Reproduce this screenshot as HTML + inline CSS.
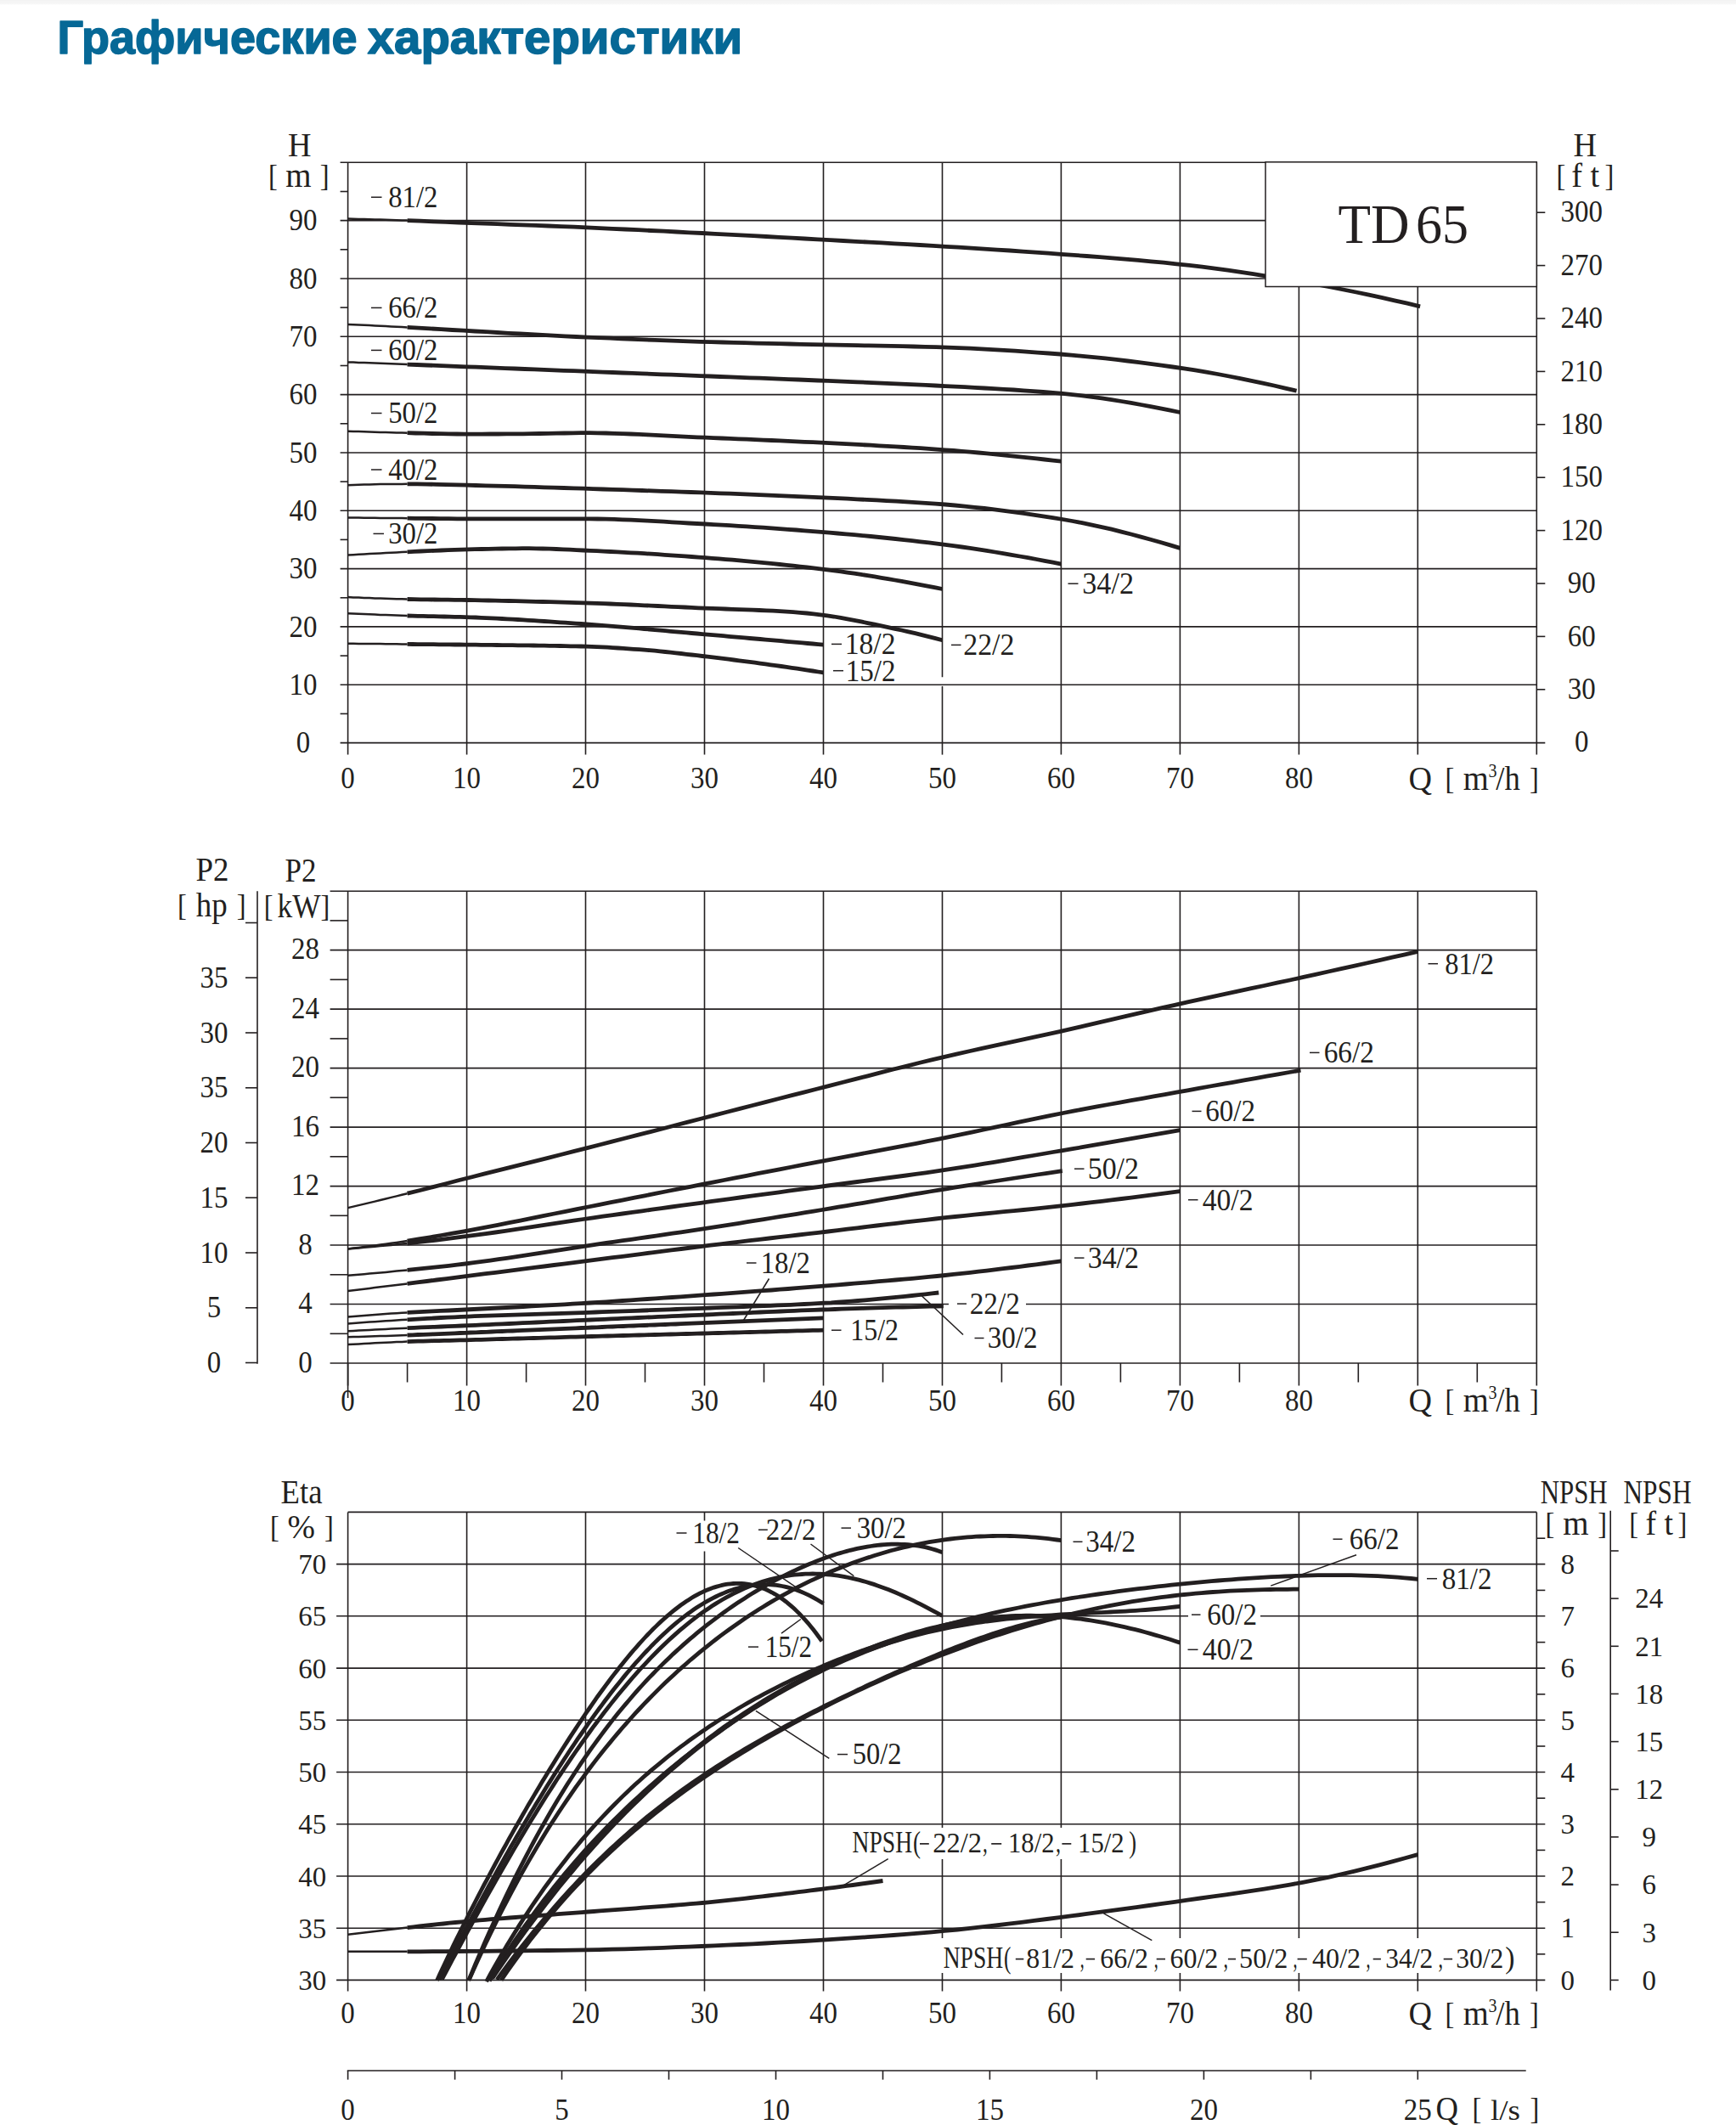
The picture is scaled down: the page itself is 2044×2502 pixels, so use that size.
<!DOCTYPE html>
<html lang="ru"><head><meta charset="utf-8"><title>TD65</title>
<style>
html,body{margin:0;padding:0;background:#fff;}
body{width:2044px;height:2502px;overflow:hidden;position:relative;font-family:"Liberation Sans",sans-serif;}
#strip{position:absolute;left:0;top:0;width:2044px;height:5.5px;background:linear-gradient(#f2f2f2 0,#f5f5f5 25%,#f5f5f5 66%,#ffffff 100%);}
#title{position:absolute;left:0;top:0;}
svg text{stroke:none;}
svg{position:absolute;left:0;top:0;display:block;}
</style></head><body>
<div id="strip"></div>
<svg width="2044" height="2502" viewBox="0 0 2044 2502" font-family="'Liberation Serif', serif" fill="#231f20" stroke="#231f20" stroke-linecap="butt">
<text x="67.4" y="63.2" font-family="'Liberation Sans', sans-serif" font-weight="bold" font-size="56" fill="#066896" style="stroke:#066896;stroke-width:1.5px;stroke-linejoin:round" lengthAdjust="spacingAndGlyphs" textLength="353.3">Графические</text>
<text x="432.7" y="63.2" font-family="'Liberation Sans', sans-serif" font-weight="bold" font-size="56" fill="#066896" style="stroke:#066896;stroke-width:1.5px;stroke-linejoin:round" lengthAdjust="spacingAndGlyphs" textLength="441.4">характеристики</text>
<line x1="400.6" y1="874.6" x2="1819.3" y2="874.6" stroke-width="1.6"/>
<line x1="400.6" y1="806.3" x2="1809.3" y2="806.3" stroke-width="1.6"/>
<line x1="400.6" y1="737.9" x2="1809.3" y2="737.9" stroke-width="1.6"/>
<line x1="400.6" y1="669.6" x2="1809.3" y2="669.6" stroke-width="1.6"/>
<line x1="400.6" y1="601.3" x2="1809.3" y2="601.3" stroke-width="1.6"/>
<line x1="400.6" y1="533" x2="1809.3" y2="533" stroke-width="1.6"/>
<line x1="400.6" y1="464.6" x2="1809.3" y2="464.6" stroke-width="1.6"/>
<line x1="400.6" y1="396.3" x2="1809.3" y2="396.3" stroke-width="1.6"/>
<line x1="400.6" y1="328" x2="1809.3" y2="328" stroke-width="1.6"/>
<line x1="400.6" y1="259.6" x2="1809.3" y2="259.6" stroke-width="1.6"/>
<line x1="400.6" y1="191.3" x2="1809.3" y2="191.3" stroke-width="1.6"/>
<line x1="400.6" y1="840.4" x2="409.6" y2="840.4" stroke-width="1.6"/>
<line x1="400.6" y1="772.1" x2="409.6" y2="772.1" stroke-width="1.6"/>
<line x1="400.6" y1="703.8" x2="409.6" y2="703.8" stroke-width="1.6"/>
<line x1="400.6" y1="635.4" x2="409.6" y2="635.4" stroke-width="1.6"/>
<line x1="400.6" y1="567.1" x2="409.6" y2="567.1" stroke-width="1.6"/>
<line x1="400.6" y1="498.8" x2="409.6" y2="498.8" stroke-width="1.6"/>
<line x1="400.6" y1="430.5" x2="409.6" y2="430.5" stroke-width="1.6"/>
<line x1="400.6" y1="362.1" x2="409.6" y2="362.1" stroke-width="1.6"/>
<line x1="400.6" y1="293.8" x2="409.6" y2="293.8" stroke-width="1.6"/>
<line x1="400.6" y1="225.5" x2="409.6" y2="225.5" stroke-width="1.6"/>
<line x1="409.6" y1="191.3" x2="409.6" y2="888.6" stroke-width="1.6"/>
<line x1="549.6" y1="191.3" x2="549.6" y2="888.6" stroke-width="1.6"/>
<line x1="689.5" y1="191.3" x2="689.5" y2="888.6" stroke-width="1.6"/>
<line x1="829.5" y1="191.3" x2="829.5" y2="888.6" stroke-width="1.6"/>
<line x1="969.5" y1="191.3" x2="969.5" y2="888.6" stroke-width="1.6"/>
<line x1="1109.5" y1="191.3" x2="1109.5" y2="797.3" stroke-width="1.6"/>
<line x1="1109.5" y1="807.9" x2="1109.5" y2="888.6" stroke-width="1.6"/>
<line x1="1249.4" y1="191.3" x2="1249.4" y2="888.6" stroke-width="1.6"/>
<line x1="1389.4" y1="191.3" x2="1389.4" y2="888.6" stroke-width="1.6"/>
<line x1="1529.4" y1="191.3" x2="1529.4" y2="888.6" stroke-width="1.6"/>
<line x1="1669.3" y1="191.3" x2="1669.3" y2="888.6" stroke-width="1.6"/>
<line x1="1809.3" y1="191.3" x2="1809.3" y2="888.6" stroke-width="1.6"/>
<text x="357" y="886.2" font-size="35.3" text-anchor="middle" textLength="16.5" lengthAdjust="spacingAndGlyphs">0</text>
<text x="357" y="817.9" font-size="35.3" text-anchor="middle" textLength="33" lengthAdjust="spacingAndGlyphs">10</text>
<text x="357" y="749.5" font-size="35.3" text-anchor="middle" textLength="33" lengthAdjust="spacingAndGlyphs">20</text>
<text x="357" y="681.2" font-size="35.3" text-anchor="middle" textLength="33" lengthAdjust="spacingAndGlyphs">30</text>
<text x="357" y="612.9" font-size="35.3" text-anchor="middle" textLength="33" lengthAdjust="spacingAndGlyphs">40</text>
<text x="357" y="544.6" font-size="35.3" text-anchor="middle" textLength="33" lengthAdjust="spacingAndGlyphs">50</text>
<text x="357" y="476.2" font-size="35.3" text-anchor="middle" textLength="33" lengthAdjust="spacingAndGlyphs">60</text>
<text x="357" y="407.9" font-size="35.3" text-anchor="middle" textLength="33" lengthAdjust="spacingAndGlyphs">70</text>
<text x="357" y="339.6" font-size="35.3" text-anchor="middle" textLength="33" lengthAdjust="spacingAndGlyphs">80</text>
<text x="357" y="271.2" font-size="35.3" text-anchor="middle" textLength="33" lengthAdjust="spacingAndGlyphs">90</text>
<text x="352.8" y="183.7" font-size="39.5" text-anchor="middle" textLength="27.5" lengthAdjust="spacingAndGlyphs">H</text>
<text x="315.9" y="218.6" font-size="36.5" textLength="10.8" lengthAdjust="spacingAndGlyphs">[</text>
<text x="376.8" y="218.6" font-size="36.5" textLength="10.8" lengthAdjust="spacingAndGlyphs">]</text>
<text x="336.2" y="219.6" font-size="39.5" textLength="30.3" lengthAdjust="spacingAndGlyphs">m</text>
<text x="1862.3" y="885.4" font-size="35.3" text-anchor="middle" textLength="16.5" lengthAdjust="spacingAndGlyphs">0</text>
<line x1="1809.3" y1="811.8" x2="1819.3" y2="811.8" stroke-width="1.6"/>
<text x="1862.3" y="823" font-size="35.3" text-anchor="middle" textLength="33" lengthAdjust="spacingAndGlyphs">30</text>
<line x1="1809.3" y1="749.4" x2="1819.3" y2="749.4" stroke-width="1.6"/>
<text x="1862.3" y="760.6" font-size="35.3" text-anchor="middle" textLength="33" lengthAdjust="spacingAndGlyphs">60</text>
<line x1="1809.3" y1="687" x2="1819.3" y2="687" stroke-width="1.6"/>
<text x="1862.3" y="698.2" font-size="35.3" text-anchor="middle" textLength="33" lengthAdjust="spacingAndGlyphs">90</text>
<line x1="1809.3" y1="624.6" x2="1819.3" y2="624.6" stroke-width="1.6"/>
<text x="1862.3" y="635.8" font-size="35.3" text-anchor="middle" textLength="49.5" lengthAdjust="spacingAndGlyphs">120</text>
<line x1="1809.3" y1="562.2" x2="1819.3" y2="562.2" stroke-width="1.6"/>
<text x="1862.3" y="573.4" font-size="35.3" text-anchor="middle" textLength="49.5" lengthAdjust="spacingAndGlyphs">150</text>
<line x1="1809.3" y1="499.8" x2="1819.3" y2="499.8" stroke-width="1.6"/>
<text x="1862.3" y="511" font-size="35.3" text-anchor="middle" textLength="49.5" lengthAdjust="spacingAndGlyphs">180</text>
<line x1="1809.3" y1="437.4" x2="1819.3" y2="437.4" stroke-width="1.6"/>
<text x="1862.3" y="448.6" font-size="35.3" text-anchor="middle" textLength="49.5" lengthAdjust="spacingAndGlyphs">210</text>
<line x1="1809.3" y1="375" x2="1819.3" y2="375" stroke-width="1.6"/>
<text x="1862.3" y="386.2" font-size="35.3" text-anchor="middle" textLength="49.5" lengthAdjust="spacingAndGlyphs">240</text>
<line x1="1809.3" y1="312.6" x2="1819.3" y2="312.6" stroke-width="1.6"/>
<text x="1862.3" y="323.8" font-size="35.3" text-anchor="middle" textLength="49.5" lengthAdjust="spacingAndGlyphs">270</text>
<line x1="1809.3" y1="250.2" x2="1819.3" y2="250.2" stroke-width="1.6"/>
<text x="1862.3" y="261.4" font-size="35.3" text-anchor="middle" textLength="49.5" lengthAdjust="spacingAndGlyphs">300</text>
<text x="1866.2" y="183.7" font-size="39.5" text-anchor="middle" textLength="27.5" lengthAdjust="spacingAndGlyphs">H</text>
<text x="1832.5" y="218.6" font-size="36.5" textLength="10.8" lengthAdjust="spacingAndGlyphs">[</text>
<text x="1889.5" y="218.6" font-size="36.5" textLength="10.8" lengthAdjust="spacingAndGlyphs">]</text>
<text x="1850.2" y="219.6" font-size="39.5" textLength="33" lengthAdjust="spacingAndGlyphs">f t</text>
<text x="409.6" y="927.8" font-size="35.3" text-anchor="middle" textLength="16.5" lengthAdjust="spacingAndGlyphs">0</text>
<text x="549.6" y="927.8" font-size="35.3" text-anchor="middle" textLength="33" lengthAdjust="spacingAndGlyphs">10</text>
<text x="689.5" y="927.8" font-size="35.3" text-anchor="middle" textLength="33" lengthAdjust="spacingAndGlyphs">20</text>
<text x="829.5" y="927.8" font-size="35.3" text-anchor="middle" textLength="33" lengthAdjust="spacingAndGlyphs">30</text>
<text x="969.5" y="927.8" font-size="35.3" text-anchor="middle" textLength="33" lengthAdjust="spacingAndGlyphs">40</text>
<text x="1109.5" y="927.8" font-size="35.3" text-anchor="middle" textLength="33" lengthAdjust="spacingAndGlyphs">50</text>
<text x="1249.4" y="927.8" font-size="35.3" text-anchor="middle" textLength="33" lengthAdjust="spacingAndGlyphs">60</text>
<text x="1389.4" y="927.8" font-size="35.3" text-anchor="middle" textLength="33" lengthAdjust="spacingAndGlyphs">70</text>
<text x="1529.4" y="927.8" font-size="35.3" text-anchor="middle" textLength="33" lengthAdjust="spacingAndGlyphs">80</text>
<text x="1658.5" y="929.9" font-size="39.5" textLength="27.5" lengthAdjust="spacingAndGlyphs">Q</text>
<text x="1701.6" y="928.9" font-size="36.5" textLength="10.8" lengthAdjust="spacingAndGlyphs">[</text>
<text x="1722.8" y="929.9" font-size="39.5" textLength="30" lengthAdjust="spacingAndGlyphs">m</text>
<text x="1752.6" y="914.7" font-size="24" textLength="10" lengthAdjust="spacingAndGlyphs">3</text>
<text x="1761.3" y="929.9" font-size="39.5" textLength="28.5" lengthAdjust="spacingAndGlyphs">/h</text>
<text x="1801.1" y="928.9" font-size="36.5" textLength="10.8" lengthAdjust="spacingAndGlyphs">]</text>
<path d="M409.6 257.6 L416 257.7 L422.3 257.9 L428.7 258.1 L435 258.3 L441.4 258.4 L447.8 258.6 L454.1 258.8 L460.5 259 L466.9 259.2 L473.2 259.4 L479.6 259.6" stroke-width="2.5" fill="none"/>
<path d="M479.6 259.6 L494.7 260.2 L509.8 260.8 L524.9 261.4 L540 262 L555.1 262.6 L570.2 263.2 L585.3 263.7 L600.3 264.3 L615.4 264.9 L630.5 265.4 L645.6 266 L660.7 266.6 L675.8 267.2 L690.9 267.9 L706 268.6 L721.1 269.3 L736.2 270 L751.3 270.7 L766.4 271.5 L781.5 272.2 L796.6 273 L811.7 273.8 L826.8 274.5 L841.9 275.3 L857 276.1 L872.1 276.9 L887.2 277.7 L902.3 278.5 L917.4 279.3 L932.4 280.1 L947.5 281 L962.6 281.8 L977.7 282.6 L992.8 283.5 L1007.9 284.3 L1023 285.1 L1038.1 285.9 L1053.2 286.8 L1068.3 287.6 L1083.4 288.5 L1098.5 289.4 L1113.6 290.3 L1128.7 291.2 L1143.8 292.1 L1158.9 293.1 L1174 294.1 L1189.1 295 L1204.2 296.1 L1219.3 297.1 L1234.4 298.2 L1249.5 299.3 L1264.6 300.4 L1279.6 301.5 L1294.7 302.7 L1309.8 303.9 L1324.9 305.1 L1340 306.4 L1355.1 307.8 L1370.2 309.2 L1385.3 310.8 L1400.4 312.4 L1415.5 314.2 L1430.6 316.2 L1445.7 318.2 L1460.8 320.4 L1475.9 322.7 L1491 325.1 L1506.1 327.5 L1521.2 330 L1536.3 332.6 L1551.4 335.2 L1566.5 338 L1581.6 341 L1596.7 344 L1611.7 347.2 L1626.8 350.4 L1641.9 353.8 L1657 357.2 L1672.1 360.8" stroke-width="4.8" fill="none"/>
<path d="M409.6 381.9 L416 382.2 L422.3 382.5 L428.7 382.8 L435 383.1 L441.4 383.4 L447.8 383.7 L454.1 384 L460.5 384.4 L466.9 384.7 L473.2 385 L479.6 385.4" stroke-width="2.5" fill="none"/>
<path d="M479.6 385.4 L492.8 386.1 L506.1 386.9 L519.3 387.7 L532.6 388.5 L545.8 389.2 L559.1 390 L572.4 390.7 L585.6 391.5 L598.9 392.3 L612.1 393 L625.4 393.7 L638.6 394.4 L651.9 395.1 L665.1 395.8 L678.4 396.5 L691.6 397.1 L704.9 397.7 L718.1 398.2 L731.4 398.8 L744.6 399.4 L757.9 399.9 L771.1 400.4 L784.4 400.9 L797.7 401.4 L810.9 401.9 L824.2 402.3 L837.4 402.7 L850.7 403 L863.9 403.4 L877.2 403.7 L890.4 404.1 L903.7 404.4 L916.9 404.7 L930.2 405 L943.4 405.3 L956.7 405.6 L969.9 405.9 L983.2 406.2 L996.4 406.4 L1009.7 406.7 L1023 406.9 L1036.2 407.2 L1049.5 407.4 L1062.7 407.7 L1076 408 L1089.2 408.3 L1102.5 408.7 L1115.7 409.1 L1129 409.6 L1142.2 410.2 L1155.5 410.9 L1168.7 411.6 L1182 412.4 L1195.2 413.2 L1208.5 414.1 L1221.7 415.1 L1235 416 L1248.3 417 L1261.5 418.1 L1274.8 419.3 L1288 420.6 L1301.3 421.9 L1314.5 423.4 L1327.8 425 L1341 426.6 L1354.3 428.3 L1367.5 430.1 L1380.8 432 L1394 433.9 L1407.3 435.9 L1420.5 438.1 L1433.8 440.5 L1447 443 L1460.3 445.6 L1473.5 448.3 L1486.8 451.1 L1500.1 454 L1513.3 457.1 L1526.6 460.2" stroke-width="4.8" fill="none"/>
<path d="M409.6 426.4 L416 426.6 L422.3 426.9 L428.7 427.1 L435 427.3 L441.4 427.6 L447.8 427.8 L454.1 428.1 L460.5 428.3 L466.9 428.6 L473.2 428.8 L479.6 429.1" stroke-width="2.5" fill="none"/>
<path d="M479.6 429.1 L491.1 429.5 L502.6 430 L514.1 430.4 L525.7 430.9 L537.2 431.3 L548.7 431.8 L560.2 432.2 L571.7 432.7 L583.2 433.1 L594.8 433.6 L606.3 434 L617.8 434.5 L629.3 434.9 L640.8 435.4 L652.3 435.8 L663.8 436.3 L675.4 436.7 L686.9 437.2 L698.4 437.6 L709.9 438.1 L721.4 438.5 L732.9 439 L744.5 439.4 L756 439.9 L767.5 440.3 L779 440.8 L790.5 441.2 L802 441.7 L813.6 442.1 L825.1 442.6 L836.6 443 L848.1 443.5 L859.6 443.9 L871.1 444.4 L882.7 444.8 L894.2 445.2 L905.7 445.7 L917.2 446.1 L928.7 446.6 L940.2 447 L951.8 447.5 L963.3 448 L974.8 448.4 L986.3 448.9 L997.8 449.4 L1009.3 449.9 L1020.9 450.3 L1032.4 450.8 L1043.9 451.3 L1055.4 451.8 L1066.9 452.3 L1078.4 452.8 L1090 453.4 L1101.5 454 L1113 454.6 L1124.5 455.1 L1136 455.7 L1147.5 456.3 L1159.1 457 L1170.6 457.6 L1182.1 458.3 L1193.6 459 L1205.1 459.8 L1216.6 460.6 L1228.2 461.5 L1239.7 462.4 L1251.2 463.4 L1262.7 464.6 L1274.2 465.9 L1285.7 467.3 L1297.3 468.9 L1308.8 470.6 L1320.3 472.5 L1331.8 474.4 L1343.3 476.5 L1354.8 478.6 L1366.4 480.8 L1377.9 483.1 L1389.4 485.5" stroke-width="4.8" fill="none"/>
<path d="M409.6 507.7 L416 507.9 L422.3 508.1 L428.7 508.3 L435 508.5 L441.4 508.7 L447.8 508.9 L454.1 509.1 L460.5 509.2 L466.9 509.4 L473.2 509.6 L479.6 509.7" stroke-width="2.5" fill="none"/>
<path d="M479.6 509.7 L489.3 510 L499.1 510.2 L508.8 510.5 L518.6 510.7 L528.3 510.9 L538.1 511 L547.8 511.1 L557.5 511.1 L567.3 511.1 L577 511 L586.8 511 L596.5 510.9 L606.3 510.8 L616 510.8 L625.8 510.7 L635.5 510.5 L645.2 510.4 L655 510.2 L664.7 510 L674.5 509.8 L684.2 509.7 L694 509.7 L703.7 509.8 L713.5 510 L723.2 510.3 L732.9 510.6 L742.7 511 L752.4 511.4 L762.2 511.9 L771.9 512.3 L781.7 512.8 L791.4 513.4 L801.2 513.9 L810.9 514.3 L820.7 514.8 L830.4 515.2 L840.1 515.6 L849.9 516 L859.6 516.4 L869.4 516.8 L879.1 517.2 L888.9 517.7 L898.6 518.1 L908.4 518.5 L918.1 518.9 L927.8 519.4 L937.6 519.8 L947.3 520.3 L957.1 520.7 L966.8 521.2 L976.6 521.7 L986.3 522.2 L996.1 522.7 L1005.8 523.2 L1015.5 523.7 L1025.3 524.2 L1035 524.8 L1044.8 525.3 L1054.5 525.9 L1064.3 526.5 L1074 527.1 L1083.8 527.7 L1093.5 528.4 L1103.2 529.1 L1113 529.8 L1122.7 530.5 L1132.5 531.3 L1142.2 532.1 L1152 533 L1161.7 533.9 L1171.5 534.8 L1181.2 535.8 L1191 536.8 L1200.7 537.8 L1210.4 538.8 L1220.2 539.9 L1229.9 541 L1239.7 542.1 L1249.4 543.2" stroke-width="4.8" fill="none"/>
<path d="M409.6 571.2 L416 571 L422.3 570.8 L428.7 570.6 L435 570.4 L441.4 570.3 L447.8 570.1 L454.1 570 L460.5 569.9 L466.9 569.9 L473.2 569.9 L479.6 569.8" stroke-width="2.5" fill="none"/>
<path d="M479.6 569.8 L491.1 569.9 L502.6 570.1 L514.1 570.3 L525.7 570.6 L537.2 570.9 L548.7 571.2 L560.2 571.5 L571.7 571.8 L583.2 572.1 L594.8 572.4 L606.3 572.7 L617.8 573.1 L629.3 573.4 L640.8 573.8 L652.3 574.1 L663.8 574.5 L675.4 574.9 L686.9 575.2 L698.4 575.6 L709.9 576 L721.4 576.3 L732.9 576.7 L744.5 577.1 L756 577.5 L767.5 577.9 L779 578.3 L790.5 578.7 L802 579.1 L813.6 579.5 L825.1 579.9 L836.6 580.4 L848.1 580.8 L859.6 581.2 L871.1 581.7 L882.7 582.1 L894.2 582.6 L905.7 583.1 L917.2 583.6 L928.7 584.1 L940.2 584.6 L951.8 585.1 L963.3 585.6 L974.8 586.2 L986.3 586.7 L997.8 587.2 L1009.3 587.8 L1020.9 588.4 L1032.4 588.9 L1043.9 589.6 L1055.4 590.2 L1066.9 590.9 L1078.4 591.6 L1090 592.3 L1101.5 593.2 L1113 594 L1124.5 595 L1136 596.1 L1147.5 597.3 L1159.1 598.5 L1170.6 599.9 L1182.1 601.3 L1193.6 602.8 L1205.1 604.4 L1216.6 606.1 L1228.2 607.8 L1239.7 609.6 L1251.2 611.5 L1262.7 613.5 L1274.2 615.7 L1285.7 618.1 L1297.3 620.6 L1308.8 623.2 L1320.3 626.1 L1331.8 629 L1343.3 632.1 L1354.8 635.2 L1366.4 638.5 L1377.9 641.9 L1389.4 645.4" stroke-width="4.8" fill="none"/>
<path d="M409.6 609.5 L416 609.5 L422.3 609.6 L428.7 609.7 L435 609.7 L441.4 609.8 L447.8 609.9 L454.1 609.9 L460.5 610 L466.9 610 L473.2 610.1 L479.6 610.2" stroke-width="2.5" fill="none"/>
<path d="M479.6 610.2 L489.3 610.3 L499.1 610.4 L508.8 610.5 L518.6 610.6 L528.3 610.7 L538.1 610.8 L547.8 610.8 L557.5 610.8 L567.3 610.8 L577 610.8 L586.8 610.8 L596.5 610.8 L606.3 610.8 L616 610.8 L625.8 610.8 L635.5 610.8 L645.2 610.8 L655 610.8 L664.7 610.8 L674.5 610.8 L684.2 610.8 L694 610.9 L703.7 611 L713.5 611.1 L723.2 611.4 L732.9 611.8 L742.7 612.2 L752.4 612.6 L762.2 613.1 L771.9 613.7 L781.7 614.2 L791.4 614.8 L801.2 615.4 L810.9 616 L820.7 616.5 L830.4 617 L840.1 617.6 L849.9 618.1 L859.6 618.7 L869.4 619.3 L879.1 619.9 L888.9 620.6 L898.6 621.2 L908.4 621.9 L918.1 622.6 L927.8 623.3 L937.6 624 L947.3 624.8 L957.1 625.6 L966.8 626.3 L976.6 627.1 L986.3 628 L996.1 628.8 L1005.8 629.7 L1015.5 630.6 L1025.3 631.5 L1035 632.5 L1044.8 633.5 L1054.5 634.5 L1064.3 635.6 L1074 636.7 L1083.8 637.8 L1093.5 638.9 L1103.2 640.1 L1113 641.4 L1122.7 642.7 L1132.5 644 L1142.2 645.4 L1152 646.9 L1161.7 648.4 L1171.5 650 L1181.2 651.6 L1191 653.3 L1200.7 655 L1210.4 656.7 L1220.2 658.5 L1229.9 660.4 L1239.7 662.2 L1249.4 664.1" stroke-width="4.8" fill="none"/>
<path d="M409.6 653.6 L416 653.2 L422.3 652.8 L428.7 652.4 L435 652.1 L441.4 651.7 L447.8 651.4 L454.1 651 L460.5 650.7 L466.9 650.4 L473.2 650.1 L479.6 649.8" stroke-width="2.5" fill="none"/>
<path d="M479.6 649.8 L487.6 649.4 L495.5 649 L503.5 648.7 L511.5 648.3 L519.4 648 L527.4 647.6 L535.4 647.3 L543.4 647.1 L551.3 646.9 L559.3 646.7 L567.3 646.5 L575.3 646.3 L583.2 646.1 L591.2 646 L599.2 645.8 L607.2 645.8 L615.1 645.7 L623.1 645.7 L631.1 645.8 L639 646 L647 646.2 L655 646.5 L663 646.9 L670.9 647.2 L678.9 647.6 L686.9 648 L694.9 648.3 L702.8 648.7 L710.8 649.1 L718.8 649.5 L726.7 649.9 L734.7 650.3 L742.7 650.8 L750.7 651.2 L758.6 651.7 L766.6 652.2 L774.6 652.7 L782.6 653.3 L790.5 653.8 L798.5 654.4 L806.5 654.9 L814.4 655.5 L822.4 656.1 L830.4 656.7 L838.4 657.3 L846.3 657.9 L854.3 658.6 L862.3 659.2 L870.3 659.9 L878.2 660.6 L886.2 661.4 L894.2 662.1 L902.2 662.9 L910.1 663.7 L918.1 664.5 L926.1 665.3 L934 666.2 L942 667.1 L950 668 L958 668.9 L965.9 669.9 L973.9 670.8 L981.9 671.9 L989.9 672.9 L997.8 674.1 L1005.8 675.2 L1013.8 676.4 L1021.7 677.7 L1029.7 678.9 L1037.7 680.3 L1045.7 681.6 L1053.6 683 L1061.6 684.4 L1069.6 685.9 L1077.6 687.3 L1085.5 688.8 L1093.5 690.4 L1101.5 691.9 L1109.5 693.5" stroke-width="4.8" fill="none"/>
<path d="M409.6 703.1 L416 703.4 L422.3 703.6 L428.7 703.9 L435 704.1 L441.4 704.4 L447.8 704.6 L454.1 704.8 L460.5 705 L466.9 705.2 L473.2 705.3 L479.6 705.5" stroke-width="2.5" fill="none"/>
<path d="M479.6 705.5 L487.6 705.6 L495.5 705.8 L503.5 705.9 L511.5 706 L519.4 706.1 L527.4 706.2 L535.4 706.3 L543.4 706.4 L551.3 706.5 L559.3 706.7 L567.3 706.8 L575.3 707 L583.2 707.2 L591.2 707.3 L599.2 707.5 L607.2 707.7 L615.1 707.9 L623.1 708.1 L631.1 708.3 L639 708.5 L647 708.7 L655 708.9 L663 709.1 L670.9 709.4 L678.9 709.6 L686.9 709.8 L694.9 710.1 L702.8 710.4 L710.8 710.7 L718.8 711 L726.7 711.3 L734.7 711.7 L742.7 712 L750.7 712.4 L758.6 712.8 L766.6 713.1 L774.6 713.5 L782.6 713.9 L790.5 714.3 L798.5 714.7 L806.5 715 L814.4 715.4 L822.4 715.8 L830.4 716.1 L838.4 716.4 L846.3 716.7 L854.3 717 L862.3 717.3 L870.3 717.6 L878.2 717.9 L886.2 718.2 L894.2 718.5 L902.2 718.8 L910.1 719.2 L918.1 719.6 L926.1 720.1 L934 720.6 L942 721.3 L950 722 L958 722.9 L965.9 723.8 L973.9 724.9 L981.9 726 L989.9 727.3 L997.8 728.8 L1005.8 730.3 L1013.8 731.9 L1021.7 733.6 L1029.7 735.2 L1037.7 736.9 L1045.7 738.6 L1053.6 740.3 L1061.6 742 L1069.6 743.9 L1077.6 745.7 L1085.5 747.7 L1093.5 749.6 L1101.5 751.6 L1109.5 753.7" stroke-width="4.8" fill="none"/>
<path d="M409.6 722.2 L416 722.5 L422.3 722.8 L428.7 723.1 L435 723.3 L441.4 723.6 L447.8 723.9 L454.1 724.1 L460.5 724.3 L466.9 724.6 L473.2 724.8 L479.6 725" stroke-width="2.5" fill="none"/>
<path d="M479.6 725 L485.8 725.1 L492 725.3 L498.2 725.4 L504.4 725.6 L510.6 725.7 L516.8 725.8 L523 726 L529.2 726.1 L535.4 726.3 L541.6 726.4 L547.8 726.6 L554 726.8 L560.2 727 L566.4 727.3 L572.6 727.6 L578.8 727.9 L585 728.2 L591.2 728.5 L597.4 728.8 L603.6 729.2 L609.8 729.5 L616 729.9 L622.2 730.3 L628.4 730.7 L634.6 731.1 L640.8 731.5 L647 731.9 L653.2 732.3 L659.4 732.8 L665.6 733.2 L671.8 733.6 L678 734.1 L684.2 734.5 L690.4 734.9 L696.6 735.4 L702.8 735.8 L709 736.3 L715.2 736.8 L721.4 737.3 L727.6 737.8 L733.8 738.3 L740 738.8 L746.2 739.4 L752.4 739.9 L758.6 740.5 L764.8 741 L771 741.6 L777.2 742.1 L783.4 742.7 L789.6 743.3 L795.8 743.8 L802 744.4 L808.2 744.9 L814.4 745.5 L820.7 746 L826.9 746.6 L833.1 747.1 L839.3 747.7 L845.5 748.2 L851.7 748.7 L857.9 749.3 L864.1 749.8 L870.3 750.4 L876.5 750.9 L882.7 751.5 L888.9 752 L895.1 752.5 L901.3 753.1 L907.5 753.6 L913.7 754.2 L919.9 754.7 L926.1 755.3 L932.3 755.8 L938.5 756.4 L944.7 756.9 L950.9 757.5 L957.1 758 L963.3 758.6 L969.5 759.1" stroke-width="4.8" fill="none"/>
<path d="M409.6 757.8 L416 757.8 L422.3 757.9 L428.7 757.9 L435 758 L441.4 758.1 L447.8 758.1 L454.1 758.2 L460.5 758.3 L466.9 758.3 L473.2 758.4 L479.6 758.4" stroke-width="2.5" fill="none"/>
<path d="M479.6 758.4 L485.8 758.5 L492 758.6 L498.2 758.6 L504.4 758.7 L510.6 758.7 L516.8 758.8 L523 758.8 L529.2 758.9 L535.4 759 L541.6 759 L547.8 759.1 L554 759.2 L560.2 759.2 L566.4 759.3 L572.6 759.4 L578.8 759.4 L585 759.5 L591.2 759.6 L597.4 759.6 L603.6 759.7 L609.8 759.8 L616 759.9 L622.2 759.9 L628.4 760 L634.6 760.1 L640.8 760.2 L647 760.3 L653.2 760.4 L659.4 760.5 L665.6 760.6 L671.8 760.8 L678 760.9 L684.2 761 L690.4 761.2 L696.6 761.4 L702.8 761.6 L709 761.9 L715.2 762.2 L721.4 762.6 L727.6 763 L733.8 763.4 L740 763.8 L746.2 764.3 L752.4 764.7 L758.6 765.2 L764.8 765.7 L771 766.2 L777.2 766.8 L783.4 767.5 L789.6 768.1 L795.8 768.8 L802 769.5 L808.2 770.3 L814.4 771 L820.7 771.7 L826.9 772.5 L833.1 773.2 L839.3 773.9 L845.5 774.7 L851.7 775.4 L857.9 776.2 L864.1 777 L870.3 777.8 L876.5 778.6 L882.7 779.4 L888.9 780.2 L895.1 781.1 L901.3 781.9 L907.5 782.8 L913.7 783.6 L919.9 784.5 L926.1 785.4 L932.3 786.3 L938.5 787.2 L944.7 788.1 L950.9 789.1 L957.1 790 L963.3 791 L969.5 791.9" stroke-width="4.8" fill="none"/>
<rect x="1490" y="190.8" width="319.3" height="146.7" fill="#fff" stroke="#231f20" stroke-width="1.5"/>
<text x="1575.5" y="286" font-size="65" textLength="84" lengthAdjust="spacingAndGlyphs">TD</text>
<text x="1667" y="286" font-size="65" textLength="62" lengthAdjust="spacingAndGlyphs">65</text>
<line x1="437" y1="232.2" x2="449.5" y2="232.2" stroke-width="1.5"/>
<text x="457.2" y="244" font-size="35.3" textLength="58.3" lengthAdjust="spacingAndGlyphs">81/2</text>
<line x1="437" y1="362.4" x2="449.5" y2="362.4" stroke-width="1.5"/>
<text x="457.2" y="374.2" font-size="35.3" textLength="58.3" lengthAdjust="spacingAndGlyphs">66/2</text>
<line x1="437" y1="412.4" x2="449.5" y2="412.4" stroke-width="1.5"/>
<text x="457.2" y="424.2" font-size="35.3" textLength="58.3" lengthAdjust="spacingAndGlyphs">60/2</text>
<line x1="437" y1="486.5" x2="449.5" y2="486.5" stroke-width="1.5"/>
<text x="457.2" y="498.3" font-size="35.3" textLength="58.3" lengthAdjust="spacingAndGlyphs">50/2</text>
<line x1="437" y1="553" x2="449.5" y2="553" stroke-width="1.5"/>
<text x="457.2" y="564.8" font-size="35.3" textLength="58.3" lengthAdjust="spacingAndGlyphs">40/2</text>
<line x1="439.5" y1="628.4" x2="452" y2="628.4" stroke-width="1.5"/>
<text x="457.2" y="640.2" font-size="35.3" textLength="58.3" lengthAdjust="spacingAndGlyphs">30/2</text>
<line x1="979" y1="758.4" x2="991" y2="758.4" stroke-width="1.5"/>
<text x="994.7" y="770.2" font-size="35.3" textLength="59.8" lengthAdjust="spacingAndGlyphs">18/2</text>
<line x1="981" y1="789.7" x2="993" y2="789.7" stroke-width="1.5"/>
<text x="995.7" y="801.5" font-size="35.3" textLength="58.8" lengthAdjust="spacingAndGlyphs">15/2</text>
<line x1="1120" y1="759.4" x2="1131.5" y2="759.4" stroke-width="1.5"/>
<text x="1134.2" y="771.2" font-size="35.3" textLength="60.3" lengthAdjust="spacingAndGlyphs">22/2</text>
<line x1="1257.5" y1="687.2" x2="1269.5" y2="687.2" stroke-width="1.5"/>
<text x="1274.2" y="699" font-size="35.3" textLength="60.8" lengthAdjust="spacingAndGlyphs">34/2</text>
<line x1="388.6" y1="1605" x2="1809.3" y2="1605" stroke-width="1.6"/>
<line x1="388.6" y1="1535.5" x2="1809.3" y2="1535.5" stroke-width="1.6"/>
<line x1="388.6" y1="1466" x2="1809.3" y2="1466" stroke-width="1.6"/>
<line x1="388.6" y1="1396.6" x2="1809.3" y2="1396.6" stroke-width="1.6"/>
<line x1="388.6" y1="1327.1" x2="1809.3" y2="1327.1" stroke-width="1.6"/>
<line x1="388.6" y1="1257.6" x2="1809.3" y2="1257.6" stroke-width="1.6"/>
<line x1="388.6" y1="1188.1" x2="1809.3" y2="1188.1" stroke-width="1.6"/>
<line x1="388.6" y1="1118.6" x2="1809.3" y2="1118.6" stroke-width="1.6"/>
<line x1="388.6" y1="1049.2" x2="1809.3" y2="1049.2" stroke-width="1.6"/>
<line x1="388.6" y1="1570.3" x2="409.6" y2="1570.3" stroke-width="1.6"/>
<line x1="388.6" y1="1500.8" x2="409.6" y2="1500.8" stroke-width="1.6"/>
<line x1="388.6" y1="1431.3" x2="409.6" y2="1431.3" stroke-width="1.6"/>
<line x1="388.6" y1="1361.8" x2="409.6" y2="1361.8" stroke-width="1.6"/>
<line x1="388.6" y1="1292.3" x2="409.6" y2="1292.3" stroke-width="1.6"/>
<line x1="388.6" y1="1222.9" x2="409.6" y2="1222.9" stroke-width="1.6"/>
<line x1="388.6" y1="1153.4" x2="409.6" y2="1153.4" stroke-width="1.6"/>
<line x1="388.6" y1="1083.9" x2="409.6" y2="1083.9" stroke-width="1.6"/>
<line x1="409.6" y1="1049.2" x2="409.6" y2="1631.5" stroke-width="1.6"/>
<line x1="549.6" y1="1049.2" x2="549.6" y2="1631.5" stroke-width="1.6"/>
<line x1="689.5" y1="1049.2" x2="689.5" y2="1631.5" stroke-width="1.6"/>
<line x1="829.5" y1="1049.2" x2="829.5" y2="1631.5" stroke-width="1.6"/>
<line x1="969.5" y1="1049.2" x2="969.5" y2="1631.5" stroke-width="1.6"/>
<line x1="1109.5" y1="1049.2" x2="1109.5" y2="1631.5" stroke-width="1.6"/>
<line x1="1249.4" y1="1049.2" x2="1249.4" y2="1631.5" stroke-width="1.6"/>
<line x1="1389.4" y1="1049.2" x2="1389.4" y2="1631.5" stroke-width="1.6"/>
<line x1="1529.4" y1="1049.2" x2="1529.4" y2="1631.5" stroke-width="1.6"/>
<line x1="1669.3" y1="1049.2" x2="1669.3" y2="1631.5" stroke-width="1.6"/>
<line x1="1809.3" y1="1049.2" x2="1809.3" y2="1631.5" stroke-width="1.6"/>
<line x1="479.6" y1="1605" x2="479.6" y2="1627.5" stroke-width="1.6"/>
<line x1="619.6" y1="1605" x2="619.6" y2="1627.5" stroke-width="1.6"/>
<line x1="759.5" y1="1605" x2="759.5" y2="1627.5" stroke-width="1.6"/>
<line x1="899.5" y1="1605" x2="899.5" y2="1627.5" stroke-width="1.6"/>
<line x1="1039.5" y1="1605" x2="1039.5" y2="1627.5" stroke-width="1.6"/>
<line x1="1179.4" y1="1605" x2="1179.4" y2="1627.5" stroke-width="1.6"/>
<line x1="1319.4" y1="1605" x2="1319.4" y2="1627.5" stroke-width="1.6"/>
<line x1="1459.4" y1="1605" x2="1459.4" y2="1627.5" stroke-width="1.6"/>
<line x1="1599.3" y1="1605" x2="1599.3" y2="1627.5" stroke-width="1.6"/>
<line x1="1739.3" y1="1605" x2="1739.3" y2="1627.5" stroke-width="1.6"/>
<line x1="409.6" y1="1605" x2="409.6" y2="1646" stroke-width="1.6"/>
<text x="359.5" y="1615.8" font-size="34.9" text-anchor="middle" textLength="16.5" lengthAdjust="spacingAndGlyphs">0</text>
<text x="359.5" y="1546.3" font-size="34.9" text-anchor="middle" textLength="16.5" lengthAdjust="spacingAndGlyphs">4</text>
<text x="359.5" y="1476.8" font-size="34.9" text-anchor="middle" textLength="16.5" lengthAdjust="spacingAndGlyphs">8</text>
<text x="359.5" y="1407.4" font-size="34.9" text-anchor="middle" textLength="33" lengthAdjust="spacingAndGlyphs">12</text>
<text x="359.5" y="1337.9" font-size="34.9" text-anchor="middle" textLength="33" lengthAdjust="spacingAndGlyphs">16</text>
<text x="359.5" y="1268.4" font-size="34.9" text-anchor="middle" textLength="33" lengthAdjust="spacingAndGlyphs">20</text>
<text x="359.5" y="1198.9" font-size="34.9" text-anchor="middle" textLength="33" lengthAdjust="spacingAndGlyphs">24</text>
<text x="359.5" y="1129.4" font-size="34.9" text-anchor="middle" textLength="33" lengthAdjust="spacingAndGlyphs">28</text>
<text x="354" y="1038.4" font-size="39.5" text-anchor="middle" textLength="37" lengthAdjust="spacingAndGlyphs">P2</text>
<text x="310.7" y="1079" font-size="36.5" textLength="10.8" lengthAdjust="spacingAndGlyphs">[</text>
<text x="377.5" y="1079" font-size="36.5" textLength="10.8" lengthAdjust="spacingAndGlyphs">]</text>
<text x="326.6" y="1080" font-size="39.5" textLength="51" lengthAdjust="spacingAndGlyphs">kW</text>
<line x1="303" y1="1049.2" x2="303" y2="1605.8" stroke-width="1.6"/>
<line x1="289" y1="1604.5" x2="303" y2="1604.5" stroke-width="1.6"/>
<line x1="289" y1="1539.8" x2="303" y2="1539.8" stroke-width="1.6"/>
<line x1="289" y1="1475" x2="303" y2="1475" stroke-width="1.6"/>
<line x1="289" y1="1410.2" x2="303" y2="1410.2" stroke-width="1.6"/>
<line x1="289" y1="1345.5" x2="303" y2="1345.5" stroke-width="1.6"/>
<line x1="289" y1="1280.8" x2="303" y2="1280.8" stroke-width="1.6"/>
<line x1="289" y1="1216" x2="303" y2="1216" stroke-width="1.6"/>
<line x1="289" y1="1151.2" x2="303" y2="1151.2" stroke-width="1.6"/>
<line x1="289" y1="1086.5" x2="303" y2="1086.5" stroke-width="1.6"/>
<text x="252" y="1616.1" font-size="34.9" text-anchor="middle" textLength="16.5" lengthAdjust="spacingAndGlyphs">0</text>
<text x="252" y="1551.3" font-size="34.9" text-anchor="middle" textLength="16.5" lengthAdjust="spacingAndGlyphs">5</text>
<text x="252" y="1486.6" font-size="34.9" text-anchor="middle" textLength="33" lengthAdjust="spacingAndGlyphs">10</text>
<text x="252" y="1421.8" font-size="34.9" text-anchor="middle" textLength="33" lengthAdjust="spacingAndGlyphs">15</text>
<text x="252" y="1357.1" font-size="34.9" text-anchor="middle" textLength="33" lengthAdjust="spacingAndGlyphs">20</text>
<text x="252" y="1292.3" font-size="34.9" text-anchor="middle" textLength="33" lengthAdjust="spacingAndGlyphs">35</text>
<text x="252" y="1227.6" font-size="34.9" text-anchor="middle" textLength="33" lengthAdjust="spacingAndGlyphs">30</text>
<text x="252" y="1162.8" font-size="34.9" text-anchor="middle" textLength="33" lengthAdjust="spacingAndGlyphs">35</text>
<text x="250" y="1036.6" font-size="39.5" text-anchor="middle" textLength="39" lengthAdjust="spacingAndGlyphs">P2</text>
<text x="208.9" y="1078" font-size="36.5" textLength="10.8" lengthAdjust="spacingAndGlyphs">[</text>
<text x="278.7" y="1078" font-size="36.5" textLength="10.8" lengthAdjust="spacingAndGlyphs">]</text>
<text x="230.8" y="1079" font-size="39.5" textLength="37" lengthAdjust="spacingAndGlyphs">hp</text>
<text x="409.6" y="1660.6" font-size="34.9" text-anchor="middle" textLength="16.5" lengthAdjust="spacingAndGlyphs">0</text>
<text x="549.6" y="1660.6" font-size="34.9" text-anchor="middle" textLength="33" lengthAdjust="spacingAndGlyphs">10</text>
<text x="689.5" y="1660.6" font-size="34.9" text-anchor="middle" textLength="33" lengthAdjust="spacingAndGlyphs">20</text>
<text x="829.5" y="1660.6" font-size="34.9" text-anchor="middle" textLength="33" lengthAdjust="spacingAndGlyphs">30</text>
<text x="969.5" y="1660.6" font-size="34.9" text-anchor="middle" textLength="33" lengthAdjust="spacingAndGlyphs">40</text>
<text x="1109.5" y="1660.6" font-size="34.9" text-anchor="middle" textLength="33" lengthAdjust="spacingAndGlyphs">50</text>
<text x="1249.4" y="1660.6" font-size="34.9" text-anchor="middle" textLength="33" lengthAdjust="spacingAndGlyphs">60</text>
<text x="1389.4" y="1660.6" font-size="34.9" text-anchor="middle" textLength="33" lengthAdjust="spacingAndGlyphs">70</text>
<text x="1529.4" y="1660.6" font-size="34.9" text-anchor="middle" textLength="33" lengthAdjust="spacingAndGlyphs">80</text>
<text x="1658.5" y="1662" font-size="39.5" textLength="27.5" lengthAdjust="spacingAndGlyphs">Q</text>
<text x="1701.6" y="1661" font-size="36.5" textLength="10.8" lengthAdjust="spacingAndGlyphs">[</text>
<text x="1722.8" y="1662" font-size="39.5" textLength="30" lengthAdjust="spacingAndGlyphs">m</text>
<text x="1752.6" y="1646.8" font-size="24" textLength="10" lengthAdjust="spacingAndGlyphs">3</text>
<text x="1761.3" y="1662" font-size="39.5" textLength="28.5" lengthAdjust="spacingAndGlyphs">/h</text>
<text x="1801.1" y="1661" font-size="36.5" textLength="10.8" lengthAdjust="spacingAndGlyphs">]</text>
<path d="M409.6 1422.1 L416 1420.6 L422.3 1419.1 L428.7 1417.6 L435 1416.1 L441.4 1414.6 L447.8 1413 L454.1 1411.5 L460.5 1409.9 L466.9 1408.4 L473.2 1406.8 L479.6 1405.2" stroke-width="2.5" fill="none"/>
<path d="M479.6 1405.2 L494.6 1401.5 L509.7 1397.6 L524.8 1393.7 L539.8 1389.8 L554.9 1386 L569.9 1382.2 L585 1378.4 L600.1 1374.6 L615.1 1370.8 L630.2 1367.1 L645.2 1363.3 L660.3 1359.5 L675.4 1355.7 L690.4 1351.9 L705.5 1348 L720.5 1344.2 L735.6 1340.3 L750.7 1336.4 L765.7 1332.6 L780.8 1328.7 L795.8 1324.8 L810.9 1320.9 L826 1317 L841 1313.2 L856.1 1309.3 L871.1 1305.4 L886.2 1301.5 L901.3 1297.7 L916.3 1293.8 L931.4 1289.9 L946.4 1286.1 L961.5 1282.2 L976.6 1278.4 L991.6 1274.5 L1006.7 1270.6 L1021.7 1266.8 L1036.8 1262.9 L1051.9 1259 L1066.9 1255.3 L1082 1251.5 L1097 1247.9 L1112.1 1244.3 L1127.2 1240.8 L1142.2 1237.5 L1157.3 1234.2 L1172.3 1230.9 L1187.4 1227.7 L1202.5 1224.4 L1217.5 1221.2 L1232.6 1217.9 L1247.6 1214.6 L1262.7 1211.2 L1277.8 1207.7 L1292.8 1204.2 L1307.9 1200.7 L1322.9 1197.2 L1338 1193.6 L1353.1 1190.1 L1368.1 1186.7 L1383.2 1183.3 L1398.2 1179.9 L1413.3 1176.6 L1428.4 1173.3 L1443.4 1170.1 L1458.5 1166.9 L1473.5 1163.7 L1488.6 1160.5 L1503.7 1157.2 L1518.7 1154 L1533.8 1150.7 L1548.8 1147.4 L1563.9 1144 L1579 1140.7 L1594 1137.3 L1609.1 1134 L1624.1 1130.6 L1639.2 1127.2 L1654.3 1123.8 L1669.3 1120.4" stroke-width="4.8" fill="none"/>
<path d="M409.6 1470.4 L416 1469.6 L422.3 1468.9 L428.7 1468.1 L435 1467.2 L441.4 1466.4 L447.8 1465.5 L454.1 1464.7 L460.5 1463.8 L466.9 1462.9 L473.2 1461.9 L479.6 1461" stroke-width="2.5" fill="none"/>
<path d="M479.6 1461 L492.9 1458.9 L506.2 1456.8 L519.5 1454.5 L532.8 1452.2 L546.2 1449.8 L559.5 1447.4 L572.8 1444.9 L586.1 1442.3 L599.4 1439.7 L612.7 1437.1 L626 1434.4 L639.4 1431.7 L652.7 1429 L666 1426.3 L679.3 1423.6 L692.6 1421 L705.9 1418.3 L719.3 1415.7 L732.6 1413.1 L745.9 1410.4 L759.2 1407.8 L772.5 1405.2 L785.8 1402.5 L799.1 1399.9 L812.5 1397.3 L825.8 1394.7 L839.1 1392.1 L852.4 1389.5 L865.7 1386.9 L879 1384.3 L892.3 1381.7 L905.7 1379.1 L919 1376.6 L932.3 1374 L945.6 1371.4 L958.9 1368.9 L972.2 1366.3 L985.5 1363.8 L998.9 1361.3 L1012.2 1358.8 L1025.5 1356.3 L1038.8 1353.8 L1052.1 1351.3 L1065.4 1348.8 L1078.8 1346.3 L1092.1 1343.7 L1105.4 1341.1 L1118.7 1338.4 L1132 1335.7 L1145.3 1332.9 L1158.6 1330 L1172 1327.1 L1185.3 1324.3 L1198.6 1321.4 L1211.9 1318.6 L1225.2 1315.8 L1238.5 1313.1 L1251.8 1310.5 L1265.2 1307.9 L1278.5 1305.4 L1291.8 1302.9 L1305.1 1300.5 L1318.4 1298.1 L1331.7 1295.7 L1345.1 1293.3 L1358.4 1290.9 L1371.7 1288.6 L1385 1286.2 L1398.3 1283.8 L1411.6 1281.4 L1424.9 1279 L1438.3 1276.6 L1451.6 1274.3 L1464.9 1271.9 L1478.2 1269.6 L1491.5 1267.2 L1504.8 1264.9 L1518.1 1262.5 L1531.5 1260.2" stroke-width="4.8" fill="none"/>
<path d="M409.6 1470.4 L416 1469.9 L422.3 1469.4 L428.7 1468.8 L435 1468.3 L441.4 1467.7 L447.8 1467.1 L454.1 1466.5 L460.5 1465.9 L466.9 1465.3 L473.2 1464.6 L479.6 1464" stroke-width="2.5" fill="none"/>
<path d="M479.6 1464 L491.1 1462.7 L502.6 1461.4 L514.1 1460.1 L525.7 1458.7 L537.2 1457.2 L548.7 1455.7 L560.2 1454.2 L571.7 1452.6 L583.2 1451 L594.8 1449.3 L606.3 1447.6 L617.8 1445.9 L629.3 1444.1 L640.8 1442.4 L652.3 1440.6 L663.8 1438.9 L675.4 1437.2 L686.9 1435.5 L698.4 1433.9 L709.9 1432.2 L721.4 1430.6 L732.9 1429 L744.5 1427.4 L756 1425.8 L767.5 1424.2 L779 1422.6 L790.5 1421 L802 1419.4 L813.6 1417.9 L825.1 1416.3 L836.6 1414.7 L848.1 1413.1 L859.6 1411.6 L871.1 1410 L882.7 1408.4 L894.2 1406.9 L905.7 1405.3 L917.2 1403.8 L928.7 1402.2 L940.2 1400.7 L951.8 1399.1 L963.3 1397.6 L974.8 1396 L986.3 1394.5 L997.8 1393 L1009.3 1391.5 L1020.9 1390 L1032.4 1388.5 L1043.9 1387 L1055.4 1385.5 L1066.9 1384 L1078.4 1382.4 L1090 1380.8 L1101.5 1379.1 L1113 1377.4 L1124.5 1375.7 L1136 1373.9 L1147.5 1372.1 L1159.1 1370.2 L1170.6 1368.3 L1182.1 1366.3 L1193.6 1364.4 L1205.1 1362.4 L1216.6 1360.5 L1228.2 1358.5 L1239.7 1356.5 L1251.2 1354.6 L1262.7 1352.6 L1274.2 1350.7 L1285.7 1348.7 L1297.3 1346.7 L1308.8 1344.7 L1320.3 1342.7 L1331.8 1340.7 L1343.3 1338.7 L1354.8 1336.7 L1366.4 1334.6 L1377.9 1332.6 L1389.4 1330.6" stroke-width="4.8" fill="none"/>
<path d="M409.6 1501.8 L416 1501.3 L422.3 1500.7 L428.7 1500.2 L435 1499.6 L441.4 1499 L447.8 1498.5 L454.1 1497.9 L460.5 1497.3 L466.9 1496.6 L473.2 1496 L479.6 1495.4" stroke-width="2.5" fill="none"/>
<path d="M479.6 1495.4 L489.3 1494.4 L499.1 1493.4 L508.9 1492.4 L518.6 1491.3 L528.4 1490.3 L538.2 1489.1 L547.9 1488 L557.7 1486.7 L567.4 1485.4 L577.2 1484.1 L587 1482.7 L596.7 1481.3 L606.5 1479.8 L616.3 1478.3 L626 1476.8 L635.8 1475.3 L645.5 1473.8 L655.3 1472.3 L665.1 1470.8 L674.8 1469.3 L684.6 1467.8 L694.4 1466.4 L704.1 1464.9 L713.9 1463.5 L723.6 1462.1 L733.4 1460.7 L743.2 1459.3 L752.9 1457.9 L762.7 1456.5 L772.5 1455.1 L782.2 1453.6 L792 1452.2 L801.7 1450.8 L811.5 1449.3 L821.3 1447.8 L831 1446.4 L840.8 1444.9 L850.6 1443.3 L860.3 1441.8 L870.1 1440.3 L879.8 1438.7 L889.6 1437.2 L899.4 1435.6 L909.1 1434 L918.9 1432.4 L928.7 1430.9 L938.4 1429.3 L948.2 1427.7 L957.9 1426.1 L967.7 1424.5 L977.5 1422.9 L987.2 1421.2 L997 1419.6 L1006.8 1417.9 L1016.5 1416.3 L1026.3 1414.6 L1036 1412.9 L1045.8 1411.2 L1055.6 1409.6 L1065.3 1407.9 L1075.1 1406.2 L1084.9 1404.6 L1094.6 1403 L1104.4 1401.4 L1114.1 1399.8 L1123.9 1398.2 L1133.7 1396.7 L1143.4 1395.1 L1153.2 1393.6 L1163 1392 L1172.7 1390.5 L1182.5 1389 L1192.2 1387.5 L1202 1386 L1211.8 1384.5 L1221.5 1383 L1231.3 1381.6 L1241.1 1380.1 L1250.8 1378.7" stroke-width="4.8" fill="none"/>
<path d="M409.6 1520.1 L416 1519.3 L422.3 1518.5 L428.7 1517.7 L435 1516.9 L441.4 1516.1 L447.8 1515.3 L454.1 1514.6 L460.5 1513.8 L466.9 1513 L473.2 1512.2 L479.6 1511.4" stroke-width="2.5" fill="none"/>
<path d="M479.6 1511.4 L491.1 1509.9 L502.6 1508.5 L514.1 1507 L525.7 1505.6 L537.2 1504.1 L548.7 1502.6 L560.2 1501.2 L571.7 1499.7 L583.2 1498.3 L594.8 1496.8 L606.3 1495.3 L617.8 1493.9 L629.3 1492.4 L640.8 1491 L652.3 1489.5 L663.8 1488.1 L675.4 1486.6 L686.9 1485.1 L698.4 1483.7 L709.9 1482.2 L721.4 1480.7 L732.9 1479.3 L744.5 1477.8 L756 1476.3 L767.5 1474.8 L779 1473.4 L790.5 1471.9 L802 1470.5 L813.6 1469 L825.1 1467.6 L836.6 1466.2 L848.1 1464.8 L859.6 1463.5 L871.1 1462.1 L882.7 1460.7 L894.2 1459.4 L905.7 1458 L917.2 1456.7 L928.7 1455.3 L940.2 1454 L951.8 1452.7 L963.3 1451.3 L974.8 1450 L986.3 1448.6 L997.8 1447.2 L1009.3 1445.8 L1020.9 1444.4 L1032.4 1443 L1043.9 1441.6 L1055.4 1440.3 L1066.9 1438.9 L1078.4 1437.6 L1090 1436.3 L1101.5 1435 L1113 1433.7 L1124.5 1432.5 L1136 1431.3 L1147.5 1430.1 L1159.1 1429 L1170.6 1427.9 L1182.1 1426.7 L1193.6 1425.6 L1205.1 1424.5 L1216.6 1423.3 L1228.2 1422.1 L1239.7 1420.9 L1251.2 1419.6 L1262.7 1418.3 L1274.2 1417 L1285.7 1415.7 L1297.3 1414.3 L1308.8 1412.9 L1320.3 1411.5 L1331.8 1410.1 L1343.3 1408.6 L1354.8 1407.2 L1366.4 1405.7 L1377.9 1404.2 L1389.4 1402.6" stroke-width="4.8" fill="none"/>
<path d="M409.6 1550.6 L416 1550.1 L422.3 1549.6 L428.7 1549 L435 1548.5 L441.4 1548 L447.8 1547.6 L454.1 1547.1 L460.5 1546.6 L466.9 1546.2 L473.2 1545.8 L479.6 1545.4" stroke-width="2.5" fill="none"/>
<path d="M479.6 1545.4 L489.3 1544.9 L499.1 1544.4 L508.8 1543.9 L518.6 1543.4 L528.3 1543 L538.1 1542.5 L547.8 1542 L557.5 1541.5 L567.3 1541 L577 1540.5 L586.8 1540 L596.5 1539.5 L606.3 1539 L616 1538.5 L625.8 1537.9 L635.5 1537.4 L645.2 1536.9 L655 1536.3 L664.7 1535.8 L674.5 1535.2 L684.2 1534.6 L694 1534 L703.7 1533.4 L713.5 1532.8 L723.2 1532.2 L732.9 1531.5 L742.7 1530.9 L752.4 1530.2 L762.2 1529.5 L771.9 1528.9 L781.7 1528.2 L791.4 1527.5 L801.2 1526.8 L810.9 1526.1 L820.7 1525.4 L830.4 1524.7 L840.1 1524 L849.9 1523.3 L859.6 1522.6 L869.4 1521.9 L879.1 1521.1 L888.9 1520.4 L898.6 1519.7 L908.4 1519 L918.1 1518.2 L927.8 1517.5 L937.6 1516.7 L947.3 1515.9 L957.1 1515.2 L966.8 1514.4 L976.6 1513.6 L986.3 1512.8 L996.1 1512 L1005.8 1511.2 L1015.5 1510.4 L1025.3 1509.6 L1035 1508.7 L1044.8 1507.9 L1054.5 1507 L1064.3 1506.2 L1074 1505.3 L1083.8 1504.4 L1093.5 1503.4 L1103.2 1502.5 L1113 1501.5 L1122.7 1500.4 L1132.5 1499.4 L1142.2 1498.3 L1152 1497.2 L1161.7 1496.1 L1171.5 1494.9 L1181.2 1493.7 L1191 1492.5 L1200.7 1491.3 L1210.4 1490 L1220.2 1488.8 L1229.9 1487.5 L1239.7 1486.1 L1249.4 1484.8" stroke-width="4.8" fill="none"/>
<path d="M409.6 1558.4 L416 1558 L422.3 1557.5 L428.7 1557.1 L435 1556.6 L441.4 1556.2 L447.8 1555.8 L454.1 1555.3 L460.5 1554.9 L466.9 1554.5 L473.2 1554.1 L479.6 1553.8" stroke-width="2.5" fill="none"/>
<path d="M479.6 1553.8 L487.5 1553.3 L495.4 1552.8 L503.3 1552.4 L511.3 1552 L519.2 1551.5 L527.1 1551.1 L535 1550.8 L542.9 1550.4 L550.9 1550.1 L558.8 1549.7 L566.7 1549.4 L574.6 1549.1 L582.5 1548.9 L590.5 1548.6 L598.4 1548.3 L606.3 1548.1 L614.2 1547.8 L622.1 1547.6 L630.1 1547.3 L638 1547.1 L645.9 1546.8 L653.8 1546.6 L661.7 1546.3 L669.7 1546.1 L677.6 1545.8 L685.5 1545.6 L693.4 1545.3 L701.3 1545 L709.3 1544.7 L717.2 1544.4 L725.1 1544.2 L733 1543.9 L740.9 1543.6 L748.9 1543.3 L756.8 1543 L764.7 1542.7 L772.6 1542.4 L780.5 1542.1 L788.5 1541.8 L796.4 1541.5 L804.3 1541.2 L812.2 1540.9 L820.1 1540.6 L828.1 1540.3 L836 1540 L843.9 1539.7 L851.8 1539.4 L859.7 1539.1 L867.7 1538.8 L875.6 1538.5 L883.5 1538.2 L891.4 1537.9 L899.3 1537.6 L907.3 1537.3 L915.2 1536.9 L923.1 1536.6 L931 1536.3 L938.9 1535.9 L946.9 1535.5 L954.8 1535.1 L962.7 1534.7 L970.6 1534.2 L978.5 1533.8 L986.5 1533.2 L994.4 1532.7 L1002.3 1532.1 L1010.2 1531.5 L1018.1 1530.8 L1026.1 1530.1 L1034 1529.4 L1041.9 1528.7 L1049.8 1527.9 L1057.7 1527.1 L1065.7 1526.3 L1073.6 1525.5 L1081.5 1524.6 L1089.4 1523.8 L1097.3 1522.9 L1105.3 1522" stroke-width="4.8" fill="none"/>
<path d="M409.6 1567.3 L416 1566.9 L422.3 1566.6 L428.7 1566.2 L435 1565.9 L441.4 1565.6 L447.8 1565.2 L454.1 1564.9 L460.5 1564.6 L466.9 1564.3 L473.2 1564 L479.6 1563.7" stroke-width="2.5" fill="none"/>
<path d="M479.6 1563.7 L487.6 1563.3 L495.6 1562.9 L503.6 1562.6 L511.5 1562.3 L519.5 1562 L527.5 1561.6 L535.5 1561.3 L543.5 1561 L551.5 1560.6 L559.5 1560.3 L567.5 1559.9 L575.5 1559.6 L583.5 1559.2 L591.5 1558.8 L599.4 1558.5 L607.4 1558.1 L615.4 1557.7 L623.4 1557.3 L631.4 1557 L639.4 1556.6 L647.4 1556.2 L655.4 1555.8 L663.4 1555.5 L671.4 1555.1 L679.4 1554.7 L687.3 1554.4 L695.3 1554 L703.3 1553.7 L711.3 1553.3 L719.3 1552.9 L727.3 1552.6 L735.3 1552.2 L743.3 1551.9 L751.3 1551.5 L759.3 1551.1 L767.2 1550.8 L775.2 1550.4 L783.2 1550.1 L791.2 1549.7 L799.2 1549.4 L807.2 1549 L815.2 1548.7 L823.2 1548.3 L831.2 1548 L839.2 1547.6 L847.2 1547.2 L855.1 1546.9 L863.1 1546.5 L871.1 1546.1 L879.1 1545.8 L887.1 1545.4 L895.1 1545 L903.1 1544.7 L911.1 1544.3 L919.1 1544 L927.1 1543.6 L935.1 1543.3 L943 1542.9 L951 1542.6 L959 1542.3 L967 1542 L975 1541.8 L983 1541.5 L991 1541.2 L999 1540.9 L1007 1540.7 L1015 1540.4 L1023 1540.2 L1030.9 1539.9 L1038.9 1539.7 L1046.9 1539.4 L1054.9 1539.2 L1062.9 1539 L1070.9 1538.8 L1078.9 1538.6 L1086.9 1538.4 L1094.9 1538.2 L1102.9 1538 L1110.8 1537.8" stroke-width="4.8" fill="none"/>
<path d="M409.6 1574.3 L416 1574.1 L422.3 1573.9 L428.7 1573.7 L435 1573.5 L441.4 1573.3 L447.8 1573.1 L454.1 1572.9 L460.5 1572.7 L466.9 1572.4 L473.2 1572.2 L479.6 1572" stroke-width="2.5" fill="none"/>
<path d="M479.6 1572 L485.8 1571.8 L492 1571.5 L498.2 1571.3 L504.4 1571.1 L510.6 1570.8 L516.8 1570.6 L523 1570.3 L529.2 1570.1 L535.4 1569.8 L541.6 1569.5 L547.8 1569.3 L554 1569 L560.2 1568.8 L566.4 1568.5 L572.6 1568.3 L578.8 1568 L585 1567.7 L591.2 1567.5 L597.4 1567.2 L603.6 1567 L609.8 1566.7 L616 1566.4 L622.2 1566.2 L628.4 1565.9 L634.6 1565.6 L640.8 1565.4 L647 1565.1 L653.2 1564.8 L659.4 1564.6 L665.6 1564.3 L671.8 1564.1 L678 1563.8 L684.2 1563.5 L690.4 1563.3 L696.6 1563 L702.8 1562.8 L709 1562.5 L715.2 1562.2 L721.4 1562 L727.6 1561.7 L733.8 1561.5 L740 1561.2 L746.2 1561 L752.4 1560.7 L758.6 1560.5 L764.8 1560.2 L771 1560 L777.2 1559.7 L783.4 1559.5 L789.6 1559.2 L795.8 1559 L802 1558.7 L808.2 1558.4 L814.4 1558.2 L820.7 1557.9 L826.9 1557.7 L833.1 1557.4 L839.3 1557.2 L845.5 1556.9 L851.7 1556.7 L857.9 1556.4 L864.1 1556.2 L870.3 1555.9 L876.5 1555.7 L882.7 1555.4 L888.9 1555.1 L895.1 1554.9 L901.3 1554.6 L907.5 1554.4 L913.7 1554.1 L919.9 1553.9 L926.1 1553.6 L932.3 1553.4 L938.5 1553.1 L944.7 1552.9 L950.9 1552.6 L957.1 1552.4 L963.3 1552.1 L969.5 1551.8" stroke-width="4.8" fill="none"/>
<path d="M409.6 1583.1 L416 1582.7 L422.3 1582.4 L428.7 1582 L435 1581.7 L441.4 1581.3 L447.8 1581 L454.1 1580.7 L460.5 1580.4 L466.9 1580.1 L473.2 1579.9 L479.6 1579.6" stroke-width="2.5" fill="none"/>
<path d="M479.6 1579.6 L485.8 1579.4 L492 1579.2 L498.2 1579.1 L504.4 1578.9 L510.6 1578.7 L516.8 1578.6 L523 1578.4 L529.2 1578.3 L535.4 1578.1 L541.6 1577.9 L547.8 1577.8 L554 1577.6 L560.2 1577.4 L566.4 1577.3 L572.6 1577.1 L578.8 1576.9 L585 1576.7 L591.2 1576.5 L597.4 1576.4 L603.6 1576.2 L609.8 1576 L616 1575.8 L622.2 1575.7 L628.4 1575.5 L634.6 1575.3 L640.8 1575.1 L647 1574.9 L653.2 1574.8 L659.4 1574.6 L665.6 1574.4 L671.8 1574.2 L678 1574.1 L684.2 1573.9 L690.4 1573.7 L696.6 1573.5 L702.8 1573.4 L709 1573.2 L715.2 1573 L721.4 1572.9 L727.6 1572.7 L733.8 1572.5 L740 1572.3 L746.2 1572.2 L752.4 1572 L758.6 1571.8 L764.8 1571.7 L771 1571.5 L777.2 1571.3 L783.4 1571.2 L789.6 1571 L795.8 1570.8 L802 1570.7 L808.2 1570.5 L814.4 1570.3 L820.7 1570.2 L826.9 1570 L833.1 1569.8 L839.3 1569.6 L845.5 1569.5 L851.7 1569.3 L857.9 1569.1 L864.1 1569 L870.3 1568.8 L876.5 1568.6 L882.7 1568.5 L888.9 1568.3 L895.1 1568.1 L901.3 1568 L907.5 1567.8 L913.7 1567.6 L919.9 1567.4 L926.1 1567.3 L932.3 1567.1 L938.5 1566.9 L944.7 1566.8 L950.9 1566.6 L957.1 1566.4 L963.3 1566.3 L969.5 1566.1" stroke-width="4.8" fill="none"/>
<line x1="1681.5" y1="1134.7" x2="1693" y2="1134.7" stroke-width="1.5"/>
<text x="1701.2" y="1146.5" font-size="34.9" textLength="57.8" lengthAdjust="spacingAndGlyphs">81/2</text>
<line x1="1542" y1="1239.4" x2="1553.5" y2="1239.4" stroke-width="1.5"/>
<text x="1558.7" y="1251.2" font-size="34.9" textLength="59.3" lengthAdjust="spacingAndGlyphs">66/2</text>
<line x1="1403.5" y1="1308.4" x2="1414.5" y2="1308.4" stroke-width="1.5"/>
<text x="1419.2" y="1320.2" font-size="34.9" textLength="58.8" lengthAdjust="spacingAndGlyphs">60/2</text>
<line x1="1265" y1="1376.2" x2="1276.5" y2="1376.2" stroke-width="1.5"/>
<text x="1280.7" y="1388" font-size="34.9" textLength="60.3" lengthAdjust="spacingAndGlyphs">50/2</text>
<line x1="1399" y1="1412.7" x2="1410.5" y2="1412.7" stroke-width="1.5"/>
<text x="1415.7" y="1424.5" font-size="34.9" textLength="59.8" lengthAdjust="spacingAndGlyphs">40/2</text>
<line x1="1265" y1="1481.1" x2="1276.5" y2="1481.1" stroke-width="1.5"/>
<text x="1280.7" y="1492.9" font-size="34.9" textLength="60.3" lengthAdjust="spacingAndGlyphs">34/2</text>
<rect x="1117" y="1528" width="91" height="24" fill="#fff" stroke="none"/>
<line x1="1127" y1="1535.1" x2="1138" y2="1535.1" stroke-width="1.5"/>
<text x="1141.7" y="1546.9" font-size="34.9" textLength="59.3" lengthAdjust="spacingAndGlyphs">22/2</text>
<line x1="1147.5" y1="1575.5" x2="1158.5" y2="1575.5" stroke-width="1.5"/>
<text x="1162.7" y="1587.3" font-size="34.9" textLength="58.8" lengthAdjust="spacingAndGlyphs">30/2</text>
<line x1="1085.5" y1="1526" x2="1134" y2="1571.5" stroke-width="1.6"/>
<line x1="979" y1="1566.2" x2="990.5" y2="1566.2" stroke-width="1.5"/>
<text x="1001.2" y="1578" font-size="34.9" textLength="56.8" lengthAdjust="spacingAndGlyphs">15/2</text>
<line x1="879" y1="1487" x2="890.5" y2="1487" stroke-width="1.5"/>
<text x="895.7" y="1498.8" font-size="34.9" textLength="58.3" lengthAdjust="spacingAndGlyphs">18/2</text>
<line x1="905.5" y1="1505.5" x2="875.5" y2="1554.5" stroke-width="1.6"/>
<line x1="396.1" y1="2331.4" x2="1819.3" y2="2331.4" stroke-width="1.6"/>
<line x1="396.1" y1="2270.2" x2="1819.3" y2="2270.2" stroke-width="1.6"/>
<line x1="396.1" y1="2209" x2="1819.3" y2="2209" stroke-width="1.6"/>
<line x1="396.1" y1="2147.7" x2="1819.3" y2="2147.7" stroke-width="1.6"/>
<line x1="396.1" y1="2086.5" x2="1819.3" y2="2086.5" stroke-width="1.6"/>
<line x1="396.1" y1="2025.3" x2="1819.3" y2="2025.3" stroke-width="1.6"/>
<line x1="396.1" y1="1964.1" x2="1819.3" y2="1964.1" stroke-width="1.6"/>
<line x1="396.1" y1="1902.8" x2="1819.3" y2="1902.8" stroke-width="1.6"/>
<line x1="396.1" y1="1841.6" x2="1819.3" y2="1841.6" stroke-width="1.6"/>
<line x1="409.6" y1="1780.4" x2="1809.3" y2="1780.4" stroke-width="1.6"/>
<line x1="409.6" y1="1780.4" x2="409.6" y2="2344.4" stroke-width="1.6"/>
<line x1="549.6" y1="1780.4" x2="549.6" y2="2344.4" stroke-width="1.6"/>
<line x1="689.5" y1="1780.4" x2="689.5" y2="2344.4" stroke-width="1.6"/>
<line x1="829.5" y1="1780.4" x2="829.5" y2="2344.4" stroke-width="1.6"/>
<line x1="969.5" y1="1780.4" x2="969.5" y2="2344.4" stroke-width="1.6"/>
<line x1="1109.5" y1="1780.4" x2="1109.5" y2="2344.4" stroke-width="1.6"/>
<line x1="1249.4" y1="1780.4" x2="1249.4" y2="2344.4" stroke-width="1.6"/>
<line x1="1389.4" y1="1780.4" x2="1389.4" y2="2344.4" stroke-width="1.6"/>
<line x1="1529.4" y1="1780.4" x2="1529.4" y2="2344.4" stroke-width="1.6"/>
<line x1="1669.3" y1="1780.4" x2="1669.3" y2="2344.4" stroke-width="1.6"/>
<line x1="1809.3" y1="1780.4" x2="1809.3" y2="2344.4" stroke-width="1.6"/>
<rect x="1102" y="2152" width="243" height="37" fill="#fff" stroke="none"/>
<rect x="1106" y="2282" width="684" height="41" fill="#fff" stroke="none"/>
<rect x="1399" y="1892" width="85" height="22" fill="#fff" stroke="none"/>
<rect x="794" y="1790.5" width="78" height="36" fill="#fff" stroke="none"/>
<text x="367.7" y="2343" font-size="34.7" text-anchor="middle" textLength="33" lengthAdjust="spacingAndGlyphs">30</text>
<text x="367.7" y="2281.8" font-size="34.7" text-anchor="middle" textLength="33" lengthAdjust="spacingAndGlyphs">35</text>
<text x="367.7" y="2220.6" font-size="34.7" text-anchor="middle" textLength="33" lengthAdjust="spacingAndGlyphs">40</text>
<text x="367.7" y="2159.3" font-size="34.7" text-anchor="middle" textLength="33" lengthAdjust="spacingAndGlyphs">45</text>
<text x="367.7" y="2098.1" font-size="34.7" text-anchor="middle" textLength="33" lengthAdjust="spacingAndGlyphs">50</text>
<text x="367.7" y="2036.9" font-size="34.7" text-anchor="middle" textLength="33" lengthAdjust="spacingAndGlyphs">55</text>
<text x="367.7" y="1975.7" font-size="34.7" text-anchor="middle" textLength="33" lengthAdjust="spacingAndGlyphs">60</text>
<text x="367.7" y="1914.4" font-size="34.7" text-anchor="middle" textLength="33" lengthAdjust="spacingAndGlyphs">65</text>
<text x="367.7" y="1853.2" font-size="34.7" text-anchor="middle" textLength="33" lengthAdjust="spacingAndGlyphs">70</text>
<text x="355" y="1770" font-size="39.5" text-anchor="middle" textLength="49" lengthAdjust="spacingAndGlyphs">Eta</text>
<text x="318.1" y="1810" font-size="36.5" textLength="10.8" lengthAdjust="spacingAndGlyphs">[</text>
<text x="381.9" y="1810" font-size="36.5" textLength="10.8" lengthAdjust="spacingAndGlyphs">]</text>
<text x="338.6" y="1811" font-size="39.5" textLength="32.5" lengthAdjust="spacingAndGlyphs">%</text>
<line x1="1809.3" y1="2300.8" x2="1819.3" y2="2300.8" stroke-width="1.6"/>
<line x1="1809.3" y1="2239.6" x2="1819.3" y2="2239.6" stroke-width="1.6"/>
<line x1="1809.3" y1="2178.4" x2="1819.3" y2="2178.4" stroke-width="1.6"/>
<line x1="1809.3" y1="2117.2" x2="1819.3" y2="2117.2" stroke-width="1.6"/>
<line x1="1809.3" y1="2056" x2="1819.3" y2="2056" stroke-width="1.6"/>
<line x1="1809.3" y1="1994.8" x2="1819.3" y2="1994.8" stroke-width="1.6"/>
<line x1="1809.3" y1="1933.6" x2="1819.3" y2="1933.6" stroke-width="1.6"/>
<line x1="1809.3" y1="1872.4" x2="1819.3" y2="1872.4" stroke-width="1.6"/>
<line x1="1809.3" y1="1811.2" x2="1819.3" y2="1811.2" stroke-width="1.6"/>
<text x="1845.8" y="2342.5" font-size="33.6" text-anchor="middle" textLength="16.5" lengthAdjust="spacingAndGlyphs">0</text>
<text x="1845.8" y="2281.3" font-size="33.6" text-anchor="middle" textLength="16.5" lengthAdjust="spacingAndGlyphs">1</text>
<text x="1845.8" y="2220.1" font-size="33.6" text-anchor="middle" textLength="16.5" lengthAdjust="spacingAndGlyphs">2</text>
<text x="1845.8" y="2158.9" font-size="33.6" text-anchor="middle" textLength="16.5" lengthAdjust="spacingAndGlyphs">3</text>
<text x="1845.8" y="2097.7" font-size="33.6" text-anchor="middle" textLength="16.5" lengthAdjust="spacingAndGlyphs">4</text>
<text x="1845.8" y="2036.5" font-size="33.6" text-anchor="middle" textLength="16.5" lengthAdjust="spacingAndGlyphs">5</text>
<text x="1845.8" y="1975.3" font-size="33.6" text-anchor="middle" textLength="16.5" lengthAdjust="spacingAndGlyphs">6</text>
<text x="1845.8" y="1914.1" font-size="33.6" text-anchor="middle" textLength="16.5" lengthAdjust="spacingAndGlyphs">7</text>
<text x="1845.8" y="1852.9" font-size="33.6" text-anchor="middle" textLength="16.5" lengthAdjust="spacingAndGlyphs">8</text>
<text x="1813.7" y="1769.6" font-size="39.5" textLength="79" lengthAdjust="spacingAndGlyphs">NPSH</text>
<text x="1819.6" y="1806" font-size="36.5" textLength="10.8" lengthAdjust="spacingAndGlyphs">[</text>
<text x="1881.2" y="1806" font-size="36.5" textLength="10.8" lengthAdjust="spacingAndGlyphs">]</text>
<text x="1840.2" y="1807" font-size="39.5" textLength="30.3" lengthAdjust="spacingAndGlyphs">m</text>
<line x1="1896.2" y1="1778.8" x2="1896.2" y2="2343.4" stroke-width="1.6"/>
<line x1="1896.2" y1="2331.4" x2="1905.7" y2="2331.4" stroke-width="1.6"/>
<text x="1941.7" y="2342.7" font-size="33.6" text-anchor="middle" textLength="16.5" lengthAdjust="spacingAndGlyphs">0</text>
<line x1="1896.2" y1="2275.2" x2="1905.7" y2="2275.2" stroke-width="1.6"/>
<text x="1941.7" y="2286.5" font-size="33.6" text-anchor="middle" textLength="16.5" lengthAdjust="spacingAndGlyphs">3</text>
<line x1="1896.2" y1="2219.1" x2="1905.7" y2="2219.1" stroke-width="1.6"/>
<text x="1941.7" y="2230.4" font-size="33.6" text-anchor="middle" textLength="16.5" lengthAdjust="spacingAndGlyphs">6</text>
<line x1="1896.2" y1="2162.9" x2="1905.7" y2="2162.9" stroke-width="1.6"/>
<text x="1941.7" y="2174.2" font-size="33.6" text-anchor="middle" textLength="16.5" lengthAdjust="spacingAndGlyphs">9</text>
<line x1="1896.2" y1="2106.8" x2="1905.7" y2="2106.8" stroke-width="1.6"/>
<text x="1941.7" y="2118.1" font-size="33.6" text-anchor="middle" textLength="33" lengthAdjust="spacingAndGlyphs">12</text>
<line x1="1896.2" y1="2050.6" x2="1905.7" y2="2050.6" stroke-width="1.6"/>
<text x="1941.7" y="2061.9" font-size="33.6" text-anchor="middle" textLength="33" lengthAdjust="spacingAndGlyphs">15</text>
<line x1="1896.2" y1="1994.4" x2="1905.7" y2="1994.4" stroke-width="1.6"/>
<text x="1941.7" y="2005.7" font-size="33.6" text-anchor="middle" textLength="33" lengthAdjust="spacingAndGlyphs">18</text>
<line x1="1896.2" y1="1938.3" x2="1905.7" y2="1938.3" stroke-width="1.6"/>
<text x="1941.7" y="1949.6" font-size="33.6" text-anchor="middle" textLength="33" lengthAdjust="spacingAndGlyphs">21</text>
<line x1="1896.2" y1="1882.1" x2="1905.7" y2="1882.1" stroke-width="1.6"/>
<text x="1941.7" y="1893.4" font-size="33.6" text-anchor="middle" textLength="33" lengthAdjust="spacingAndGlyphs">24</text>
<line x1="1896.2" y1="1826" x2="1905.7" y2="1826" stroke-width="1.6"/>
<text x="1911.5" y="1769.6" font-size="39.5" textLength="80" lengthAdjust="spacingAndGlyphs">NPSH</text>
<text x="1918.2" y="1806" font-size="36.5" textLength="10.8" lengthAdjust="spacingAndGlyphs">[</text>
<text x="1975.4" y="1806" font-size="36.5" textLength="10.8" lengthAdjust="spacingAndGlyphs">]</text>
<text x="1937.6" y="1807" font-size="39.5" textLength="32.5" lengthAdjust="spacingAndGlyphs">f t</text>
<text x="409.6" y="2382.2" font-size="35.4" text-anchor="middle" textLength="16.5" lengthAdjust="spacingAndGlyphs">0</text>
<text x="549.6" y="2382.2" font-size="35.4" text-anchor="middle" textLength="33" lengthAdjust="spacingAndGlyphs">10</text>
<text x="689.5" y="2382.2" font-size="35.4" text-anchor="middle" textLength="33" lengthAdjust="spacingAndGlyphs">20</text>
<text x="829.5" y="2382.2" font-size="35.4" text-anchor="middle" textLength="33" lengthAdjust="spacingAndGlyphs">30</text>
<text x="969.5" y="2382.2" font-size="35.4" text-anchor="middle" textLength="33" lengthAdjust="spacingAndGlyphs">40</text>
<text x="1109.5" y="2382.2" font-size="35.4" text-anchor="middle" textLength="33" lengthAdjust="spacingAndGlyphs">50</text>
<text x="1249.4" y="2382.2" font-size="35.4" text-anchor="middle" textLength="33" lengthAdjust="spacingAndGlyphs">60</text>
<text x="1389.4" y="2382.2" font-size="35.4" text-anchor="middle" textLength="33" lengthAdjust="spacingAndGlyphs">70</text>
<text x="1529.4" y="2382.2" font-size="35.4" text-anchor="middle" textLength="33" lengthAdjust="spacingAndGlyphs">80</text>
<text x="1658.5" y="2384" font-size="39.5" textLength="27.5" lengthAdjust="spacingAndGlyphs">Q</text>
<text x="1701.6" y="2383" font-size="36.5" textLength="10.8" lengthAdjust="spacingAndGlyphs">[</text>
<text x="1722.8" y="2384" font-size="39.5" textLength="30" lengthAdjust="spacingAndGlyphs">m</text>
<text x="1752.6" y="2368.8" font-size="24" textLength="10" lengthAdjust="spacingAndGlyphs">3</text>
<text x="1761.3" y="2384" font-size="39.5" textLength="28.5" lengthAdjust="spacingAndGlyphs">/h</text>
<text x="1801.1" y="2383" font-size="36.5" textLength="10.8" lengthAdjust="spacingAndGlyphs">]</text>
<line x1="408.8" y1="2438" x2="1796.7" y2="2438" stroke-width="1.6"/>
<line x1="409.6" y1="2438" x2="409.6" y2="2448.6" stroke-width="1.6"/>
<line x1="535.6" y1="2438" x2="535.6" y2="2448.6" stroke-width="1.6"/>
<line x1="661.5" y1="2438" x2="661.5" y2="2448.6" stroke-width="1.6"/>
<line x1="787.5" y1="2438" x2="787.5" y2="2448.6" stroke-width="1.6"/>
<line x1="913.5" y1="2438" x2="913.5" y2="2448.6" stroke-width="1.6"/>
<line x1="1039.5" y1="2438" x2="1039.5" y2="2448.6" stroke-width="1.6"/>
<line x1="1165.4" y1="2438" x2="1165.4" y2="2448.6" stroke-width="1.6"/>
<line x1="1291.4" y1="2438" x2="1291.4" y2="2448.6" stroke-width="1.6"/>
<line x1="1417.4" y1="2438" x2="1417.4" y2="2448.6" stroke-width="1.6"/>
<line x1="1543.4" y1="2438" x2="1543.4" y2="2448.6" stroke-width="1.6"/>
<line x1="1669.3" y1="2438" x2="1669.3" y2="2448.6" stroke-width="1.6"/>
<text x="409.6" y="2496.2" font-size="35.4" text-anchor="middle" textLength="16.5" lengthAdjust="spacingAndGlyphs">0</text>
<text x="661.5" y="2496.2" font-size="35.4" text-anchor="middle" textLength="16.5" lengthAdjust="spacingAndGlyphs">5</text>
<text x="913.5" y="2496.2" font-size="35.4" text-anchor="middle" textLength="33" lengthAdjust="spacingAndGlyphs">10</text>
<text x="1165.4" y="2496.2" font-size="35.4" text-anchor="middle" textLength="33" lengthAdjust="spacingAndGlyphs">15</text>
<text x="1417.4" y="2496.2" font-size="35.4" text-anchor="middle" textLength="33" lengthAdjust="spacingAndGlyphs">20</text>
<text x="1669.3" y="2496.2" font-size="35.4" text-anchor="middle" textLength="33" lengthAdjust="spacingAndGlyphs">25</text>
<text x="1690.5" y="2496.2" font-size="39.5" textLength="26.5" lengthAdjust="spacingAndGlyphs">Q</text>
<text x="1733.4" y="2495.2" font-size="36.5" textLength="10.8" lengthAdjust="spacingAndGlyphs">[</text>
<text x="1755" y="2496.2" font-size="34" textLength="35" lengthAdjust="spacingAndGlyphs">l/s</text>
<text x="1801.6" y="2495.2" font-size="36.5" textLength="10.8" lengthAdjust="spacingAndGlyphs">]</text>
<path d="M514.6 2331.7 L517.8 2324.6 L521.1 2317.5 L524.4 2310.6 L527.6 2303.7 L530.9 2296.9 L534.1 2290.1 L537.4 2283.4 L540.7 2276.8 L543.9 2270.2 L547.2 2263.7 L550.4 2257.2 L553.7 2250.7 L557 2244.3 L560.2 2238 L563.5 2231.7 L566.7 2225.5 L570 2219.2 L573.3 2213.1 L576.5 2207 L579.8 2200.9 L583 2194.8 L586.3 2188.8 L589.5 2182.9 L592.8 2177 L596.1 2171.1 L599.3 2165.2 L602.6 2159.4 L605.8 2153.6 L609.1 2147.9 L612.4 2142.2 L615.6 2136.5 L618.9 2130.9 L622.1 2125.2 L625.4 2119.7 L628.7 2114.1 L631.9 2108.7 L635.2 2103.2 L638.4 2097.8 L641.7 2092.4 L645 2087 L648.2 2081.7 L651.5 2076.4 L654.7 2071.2 L658 2066 L661.3 2060.8 L664.5 2055.7 L667.8 2050.6 L671 2045.6 L674.3 2040.6 L677.6 2035.6 L680.8 2030.7 L684.1 2025.8 L687.3 2021 L690.6 2016.2 L693.9 2011.5 L697.1 2006.8 L700.4 2002.1 L703.6 1997.5 L706.9 1993 L710.2 1988.5 L713.4 1984.1 L716.7 1979.7 L719.9 1975.4 L723.2 1971.1 L726.5 1966.9 L729.7 1962.8 L733 1958.7 L736.2 1954.7 L739.5 1950.7 L742.7 1946.9 L746 1943 L749.3 1939.3 L752.5 1935.6 L755.8 1932 L759 1928.5 L762.3 1925 L765.6 1921.6 L768.8 1918.3 L772.1 1915.1 L775.3 1912 L778.6 1908.9 L781.9 1906 L785.1 1903.1 L788.4 1900.3 L791.6 1897.6 L794.9 1895 L798.2 1892.5 L801.4 1890 L804.7 1887.7 L807.9 1885.5 L811.2 1883.4 L814.5 1881.3 L817.7 1879.4 L821 1877.6 L824.2 1875.9 L827.5 1874.3 L830.8 1872.8 L834 1871.5 L837.3 1870.2 L840.5 1869.1 L843.8 1868.1 L847.1 1867.2 L850.3 1866.4 L853.6 1865.7 L856.8 1865.2 L860.1 1864.8 L863.4 1864.5 L866.6 1864.4 L869.9 1864.4 L873.1 1864.5 L876.4 1864.7 L879.7 1865.1 L882.9 1865.6 L886.2 1866.3 L889.4 1867.1 L892.7 1868.1 L895.9 1869.2 L899.2 1870.4 L902.5 1871.8 L905.7 1873.3 L909 1875 L912.2 1876.8 L915.5 1878.8 L918.8 1881 L922 1883.3 L925.3 1885.7 L928.5 1888.3 L931.8 1891.1 L935.1 1894 L938.3 1897.1 L941.6 1900.4 L944.8 1903.8 L948.1 1907.4 L951.4 1911.1 L954.6 1915 L957.9 1919.1 L961.1 1923.3 L964.4 1927.7 L967.7 1932.3" stroke-width="4.8" fill="none"/>
<path d="M517.4 2330.8 L520.6 2324.4 L523.9 2318 L527.1 2311.7 L530.4 2305.4 L533.6 2299.1 L536.9 2292.9 L540.1 2286.7 L543.4 2280.5 L546.6 2274.3 L549.9 2268.2 L553.2 2262 L556.4 2256 L559.7 2249.9 L562.9 2243.9 L566.2 2237.9 L569.4 2231.9 L572.7 2225.9 L575.9 2220 L579.2 2214.1 L582.4 2208.3 L585.7 2202.4 L588.9 2196.6 L592.2 2190.9 L595.4 2185.1 L598.7 2179.4 L601.9 2173.7 L605.2 2168.1 L608.4 2162.5 L611.7 2156.9 L615 2151.3 L618.2 2145.8 L621.5 2140.3 L624.7 2134.8 L628 2129.4 L631.2 2124 L634.5 2118.7 L637.7 2113.4 L641 2108.1 L644.2 2102.8 L647.5 2097.6 L650.7 2092.5 L654 2087.3 L657.2 2082.2 L660.5 2077.2 L663.7 2072.2 L667 2067.2 L670.2 2062.3 L673.5 2057.4 L676.8 2052.5 L680 2047.7 L683.3 2043 L686.5 2038.3 L689.8 2033.6 L693 2029 L696.3 2024.4 L699.5 2019.9 L702.8 2015.4 L706 2011 L709.3 2006.6 L712.5 2002.3 L715.8 1998 L719 1993.8 L722.3 1989.6 L725.5 1985.5 L728.8 1981.4 L732 1977.4 L735.3 1973.4 L738.5 1969.5 L741.8 1965.7 L745.1 1961.9 L748.3 1958.2 L751.6 1954.6 L754.8 1951 L758.1 1947.4 L761.3 1944 L764.6 1940.6 L767.8 1937.2 L771.1 1933.9 L774.3 1930.7 L777.6 1927.6 L780.8 1924.5 L784.1 1921.5 L787.3 1918.5 L790.6 1915.7 L793.8 1912.9 L797.1 1910.2 L800.3 1907.5 L803.6 1904.9 L806.9 1902.4 L810.1 1900 L813.4 1897.6 L816.6 1895.3 L819.9 1893.1 L823.1 1891 L826.4 1889 L829.6 1887 L832.9 1885.1 L836.1 1883.3 L839.4 1881.6 L842.6 1880 L845.9 1878.4 L849.1 1877 L852.4 1875.6 L855.6 1874.3 L858.9 1873.1 L862.1 1871.9 L865.4 1870.9 L868.7 1870 L871.9 1869.1 L875.2 1868.3 L878.4 1867.7 L881.7 1867.1 L884.9 1866.6 L888.2 1866.2 L891.4 1865.9 L894.7 1865.7 L897.9 1865.6 L901.2 1865.6 L904.4 1865.6 L907.7 1865.8 L910.9 1866.1 L914.2 1866.4 L917.4 1866.9 L920.7 1867.5 L923.9 1868.1 L927.2 1868.9 L930.4 1869.8 L933.7 1870.7 L937 1871.8 L940.2 1873 L943.5 1874.2 L946.7 1875.6 L950 1877.1 L953.2 1878.6 L956.5 1880.3 L959.7 1882.1 L963 1884 L966.2 1886 L969.5 1888.1" stroke-width="4.8" fill="none"/>
<path d="M520.3 2330.6 L524.6 2322.6 L528.8 2314.6 L533 2306.7 L537.3 2298.8 L541.5 2290.9 L545.7 2283 L550 2275.2 L554.2 2267.5 L558.5 2259.7 L562.7 2252 L566.9 2244.4 L571.2 2236.7 L575.4 2229.2 L579.7 2221.6 L583.9 2214.1 L588.1 2206.7 L592.4 2199.3 L596.6 2192 L600.8 2184.7 L605.1 2177.4 L609.3 2170.3 L613.6 2163.1 L617.8 2156 L622 2149 L626.3 2142.1 L630.5 2135.2 L634.8 2128.3 L639 2121.5 L643.2 2114.8 L647.5 2108.2 L651.7 2101.6 L655.9 2095 L660.2 2088.6 L664.4 2082.2 L668.7 2075.9 L672.9 2069.6 L677.1 2063.5 L681.4 2057.3 L685.6 2051.3 L689.9 2045.4 L694.1 2039.5 L698.3 2033.7 L702.6 2028 L706.8 2022.3 L711 2016.7 L715.3 2011.3 L719.5 2005.9 L723.8 2000.5 L728 1995.3 L732.2 1990.2 L736.5 1985.1 L740.7 1980.1 L744.9 1975.2 L749.2 1970.4 L753.4 1965.7 L757.7 1961.1 L761.9 1956.6 L766.1 1952.1 L770.4 1947.8 L774.6 1943.5 L778.9 1939.3 L783.1 1935.3 L787.3 1931.3 L791.6 1927.4 L795.8 1923.6 L800 1919.9 L804.3 1916.3 L808.5 1912.8 L812.8 1909.4 L817 1906.1 L821.2 1902.9 L825.5 1899.8 L829.7 1896.8 L834 1893.9 L838.2 1891.1 L842.4 1888.4 L846.7 1885.8 L850.9 1883.3 L855.1 1880.9 L859.4 1878.6 L863.6 1876.4 L867.9 1874.3 L872.1 1872.3 L876.3 1870.4 L880.6 1868.6 L884.8 1866.9 L889.1 1865.3 L893.3 1863.8 L897.5 1862.4 L901.8 1861.1 L906 1859.9 L910.2 1858.8 L914.5 1857.8 L918.7 1856.9 L923 1856.1 L927.2 1855.3 L931.4 1854.7 L935.7 1854.2 L939.9 1853.8 L944.2 1853.5 L948.4 1853.2 L952.6 1853.1 L956.9 1853 L961.1 1853.1 L965.3 1853.2 L969.6 1853.4 L973.8 1853.8 L978.1 1854.2 L982.3 1854.7 L986.5 1855.2 L990.8 1855.9 L995 1856.6 L999.3 1857.5 L1003.5 1858.4 L1007.7 1859.4 L1012 1860.4 L1016.2 1861.6 L1020.4 1862.8 L1024.7 1864.1 L1028.9 1865.4 L1033.2 1866.9 L1037.4 1868.4 L1041.6 1869.9 L1045.9 1871.6 L1050.1 1873.3 L1054.4 1875 L1058.6 1876.9 L1062.8 1878.7 L1067.1 1880.7 L1071.3 1882.7 L1075.5 1884.7 L1079.8 1886.8 L1084 1888.9 L1088.3 1891.1 L1092.5 1893.3 L1096.7 1895.6 L1101 1897.9 L1105.2 1900.2 L1109.5 1902.5" stroke-width="4.8" fill="none"/>
<path d="M551.7 2331.9 L555.7 2322.3 L559.7 2312.8 L563.7 2303.4 L567.7 2294.1 L571.7 2284.9 L575.7 2275.9 L579.8 2267 L583.8 2258.2 L587.8 2249.6 L591.8 2241 L595.8 2232.6 L599.8 2224.3 L603.8 2216.1 L607.8 2208.1 L611.9 2200.1 L615.9 2192.3 L619.9 2184.6 L623.9 2177 L627.9 2169.5 L631.9 2162.1 L635.9 2154.9 L640 2147.7 L644 2140.7 L648 2133.8 L652 2127 L656 2120.3 L660 2113.7 L664 2107.2 L668 2100.8 L672.1 2094.5 L676.1 2088.3 L680.1 2082.2 L684.1 2076.2 L688.1 2070.4 L692.1 2064.6 L696.1 2058.9 L700.1 2053.3 L704.2 2047.8 L708.2 2042.3 L712.2 2037 L716.2 2031.8 L720.2 2026.6 L724.2 2021.6 L728.2 2016.6 L732.2 2011.7 L736.3 2006.9 L740.3 2002.2 L744.3 1997.5 L748.3 1992.9 L752.3 1988.4 L756.3 1984 L760.3 1979.7 L764.3 1975.4 L768.4 1971.2 L772.4 1967.1 L776.4 1963.1 L780.4 1959.1 L784.4 1955.2 L788.4 1951.4 L792.4 1947.6 L796.5 1943.9 L800.5 1940.2 L804.5 1936.6 L808.5 1933.1 L812.5 1929.7 L816.5 1926.3 L820.5 1922.9 L824.5 1919.6 L828.6 1916.4 L832.6 1913.2 L836.6 1910.1 L840.6 1907.1 L844.6 1904.1 L848.6 1901.1 L852.6 1898.2 L856.6 1895.4 L860.7 1892.6 L864.7 1889.8 L868.7 1887.1 L872.7 1884.5 L876.7 1881.9 L880.7 1879.3 L884.7 1876.8 L888.7 1874.4 L892.8 1872 L896.8 1869.6 L900.8 1867.3 L904.8 1865 L908.8 1862.8 L912.8 1860.6 L916.8 1858.5 L920.8 1856.4 L924.9 1854.4 L928.9 1852.4 L932.9 1850.5 L936.9 1848.6 L940.9 1846.8 L944.9 1845 L948.9 1843.2 L953 1841.5 L957 1839.9 L961 1838.3 L965 1836.8 L969 1835.3 L973 1833.8 L977 1832.4 L981 1831.1 L985.1 1829.8 L989.1 1828.6 L993.1 1827.5 L997.1 1826.4 L1001.1 1825.3 L1005.1 1824.4 L1009.1 1823.4 L1013.1 1822.6 L1017.2 1821.8 L1021.2 1821.1 L1025.2 1820.5 L1029.2 1819.9 L1033.2 1819.4 L1037.2 1819 L1041.2 1818.7 L1045.2 1818.4 L1049.3 1818.2 L1053.3 1818.2 L1057.3 1818.2 L1061.3 1818.3 L1065.3 1818.5 L1069.3 1818.7 L1073.3 1819.1 L1077.3 1819.6 L1081.4 1820.2 L1085.4 1820.9 L1089.4 1821.7 L1093.4 1822.7 L1097.4 1823.7 L1101.4 1824.9 L1105.4 1826.2 L1109.5 1827.7" stroke-width="4.8" fill="none"/>
<path d="M552.4 2330.9 L557.4 2319.6 L562.4 2308.6 L567.4 2297.7 L572.4 2287.1 L577.4 2276.6 L582.5 2266.4 L587.5 2256.3 L592.5 2246.5 L597.5 2236.8 L602.5 2227.3 L607.5 2218 L612.5 2208.9 L617.6 2199.9 L622.6 2191.1 L627.6 2182.5 L632.6 2174 L637.6 2165.7 L642.6 2157.6 L647.6 2149.6 L652.7 2141.7 L657.7 2134 L662.7 2126.5 L667.7 2119.1 L672.7 2111.8 L677.7 2104.6 L682.8 2097.6 L687.8 2090.8 L692.8 2084 L697.8 2077.4 L702.8 2070.9 L707.8 2064.5 L712.8 2058.2 L717.9 2052.1 L722.9 2046 L727.9 2040.1 L732.9 2034.3 L737.9 2028.6 L742.9 2023 L747.9 2017.4 L753 2012 L758 2006.7 L763 2001.5 L768 1996.4 L773 1991.4 L778 1986.4 L783 1981.6 L788.1 1976.8 L793.1 1972.2 L798.1 1967.6 L803.1 1963.1 L808.1 1958.7 L813.1 1954.3 L818.2 1950.1 L823.2 1945.9 L828.2 1941.8 L833.2 1937.8 L838.2 1933.8 L843.2 1930 L848.2 1926.2 L853.3 1922.4 L858.3 1918.8 L863.3 1915.2 L868.3 1911.7 L873.3 1908.2 L878.3 1904.8 L883.3 1901.5 L888.4 1898.3 L893.4 1895.1 L898.4 1892 L903.4 1888.9 L908.4 1885.9 L913.4 1883 L918.4 1880.1 L923.5 1877.3 L928.5 1874.6 L933.5 1871.9 L938.5 1869.2 L943.5 1866.7 L948.5 1864.2 L953.5 1861.7 L958.6 1859.3 L963.6 1857 L968.6 1854.7 L973.6 1852.5 L978.6 1850.3 L983.6 1848.2 L988.7 1846.2 L993.7 1844.2 L998.7 1842.2 L1003.7 1840.3 L1008.7 1838.5 L1013.7 1836.7 L1018.7 1835 L1023.8 1833.4 L1028.8 1831.7 L1033.8 1830.2 L1038.8 1828.7 L1043.8 1827.2 L1048.8 1825.8 L1053.8 1824.5 L1058.9 1823.2 L1063.9 1822 L1068.9 1820.8 L1073.9 1819.7 L1078.9 1818.6 L1083.9 1817.6 L1088.9 1816.6 L1094 1815.7 L1099 1814.9 L1104 1814.1 L1109 1813.3 L1114 1812.6 L1119 1812 L1124.1 1811.4 L1129.1 1810.9 L1134.1 1810.4 L1139.1 1809.9 L1144.1 1809.6 L1149.1 1809.2 L1154.1 1809 L1159.2 1808.8 L1164.2 1808.6 L1169.2 1808.5 L1174.2 1808.4 L1179.2 1808.4 L1184.2 1808.4 L1189.2 1808.5 L1194.3 1808.7 L1199.3 1808.9 L1204.3 1809.1 L1209.3 1809.4 L1214.3 1809.8 L1219.3 1810.2 L1224.3 1810.7 L1229.4 1811.2 L1234.4 1811.7 L1239.4 1812.3 L1244.4 1813 L1249.4 1813.7" stroke-width="4.8" fill="none"/>
<path d="M572.7 2333.1 L577.5 2324.2 L582.4 2315.5 L587.3 2306.9 L592.1 2298.6 L597 2290.3 L601.9 2282.3 L606.7 2274.4 L611.6 2266.6 L616.5 2259 L621.4 2251.6 L626.2 2244.3 L631.1 2237.1 L636 2230.1 L640.8 2223.2 L645.7 2216.5 L650.6 2209.8 L655.4 2203.3 L660.3 2197 L665.2 2190.7 L670 2184.6 L674.9 2178.6 L679.8 2172.7 L684.6 2166.9 L689.5 2161.3 L694.4 2155.7 L699.3 2150.2 L704.1 2144.9 L709 2139.7 L713.9 2134.5 L718.7 2129.5 L723.6 2124.5 L728.5 2119.6 L733.3 2114.9 L738.2 2110.2 L743.1 2105.6 L747.9 2101.1 L752.8 2096.7 L757.7 2092.3 L762.5 2088.1 L767.4 2083.9 L772.3 2079.8 L777.2 2075.8 L782 2071.8 L786.9 2067.9 L791.8 2064.1 L796.6 2060.4 L801.5 2056.7 L806.4 2053.1 L811.2 2049.5 L816.1 2046 L821 2042.6 L825.8 2039.2 L830.7 2035.9 L835.6 2032.6 L840.4 2029.4 L845.3 2026.3 L850.2 2023.2 L855.1 2020.2 L859.9 2017.2 L864.8 2014.2 L869.7 2011.3 L874.5 2008.5 L879.4 2005.7 L884.3 2002.9 L889.1 2000.2 L894 1997.6 L898.9 1994.9 L903.7 1992.4 L908.6 1989.8 L913.5 1987.3 L918.3 1984.9 L923.2 1982.4 L928.1 1980.1 L933 1977.7 L937.8 1975.4 L942.7 1973.2 L947.6 1970.9 L952.4 1968.7 L957.3 1966.6 L962.2 1964.4 L967 1962.4 L971.9 1960.3 L976.8 1958.3 L981.6 1956.3 L986.5 1954.3 L991.4 1952.4 L996.2 1950.5 L1001.1 1948.7 L1006 1946.8 L1010.9 1945.1 L1015.7 1943.3 L1020.6 1941.6 L1025.5 1939.9 L1030.3 1938.2 L1035.2 1936.6 L1040.1 1935 L1044.9 1933.4 L1049.8 1931.9 L1054.7 1930.4 L1059.5 1929 L1064.4 1927.5 L1069.3 1926.1 L1074.1 1924.8 L1079 1923.4 L1083.9 1922.2 L1088.8 1920.9 L1093.6 1919.7 L1098.5 1918.5 L1103.4 1917.4 L1108.2 1916.2 L1113.1 1915.2 L1118 1914.2 L1122.8 1913.2 L1127.7 1912.2 L1132.6 1911.3 L1137.4 1910.4 L1142.3 1909.6 L1147.2 1908.8 L1152 1908.1 L1156.9 1907.4 L1161.8 1906.7 L1166.7 1906.1 L1171.5 1905.6 L1176.4 1905.1 L1181.3 1904.6 L1186.1 1904.2 L1191 1903.9 L1195.9 1903.6 L1200.7 1903.3 L1205.6 1903.1 L1210.5 1903 L1215.3 1902.9 L1220.2 1902.9 L1225.1 1903 L1229.9 1903.1 L1234.8 1903.2 L1239.7 1903.5 L1244.6 1903.8 L1249.4 1904.1" stroke-width="4.8" fill="none"/>
<path d="M576.2 2332.3 L582 2322.6 L587.9 2313.2 L593.7 2303.9 L599.6 2294.9 L605.4 2286.1 L611.3 2277.5 L617.1 2269 L623 2260.8 L628.8 2252.7 L634.7 2244.8 L640.5 2237 L646.4 2229.5 L652.2 2222 L658.1 2214.7 L663.9 2207.6 L669.8 2200.6 L675.6 2193.8 L681.5 2187 L687.3 2180.4 L693.2 2174 L699 2167.6 L704.9 2161.4 L710.7 2155.3 L716.6 2149.3 L722.4 2143.4 L728.3 2137.6 L734.1 2131.9 L740 2126.3 L745.8 2120.8 L751.7 2115.4 L757.5 2110 L763.4 2104.8 L769.2 2099.7 L775.1 2094.6 L780.9 2089.6 L786.8 2084.7 L792.6 2079.9 L798.5 2075.1 L804.3 2070.4 L810.2 2065.8 L816 2061.3 L821.9 2056.8 L827.7 2052.5 L833.6 2048.1 L839.4 2043.9 L845.3 2039.7 L851.1 2035.5 L857 2031.5 L862.8 2027.5 L868.7 2023.5 L874.5 2019.6 L880.4 2015.8 L886.2 2012 L892.1 2008.3 L897.9 2004.7 L903.8 2001.1 L909.6 1997.6 L915.5 1994.1 L921.3 1990.7 L927.2 1987.4 L933 1984.1 L938.9 1980.8 L944.7 1977.7 L950.6 1974.5 L956.4 1971.5 L962.3 1968.5 L968.2 1965.6 L974 1962.7 L979.9 1959.9 L985.7 1957.1 L991.6 1954.4 L997.4 1951.8 L1003.3 1949.2 L1009.1 1946.7 L1015 1944.2 L1020.8 1941.9 L1026.7 1939.5 L1032.5 1937.3 L1038.4 1935.1 L1044.2 1933 L1050.1 1930.9 L1055.9 1928.9 L1061.8 1927 L1067.6 1925.1 L1073.5 1923.4 L1079.3 1921.6 L1085.2 1920 L1091 1918.4 L1096.9 1916.9 L1102.7 1915.5 L1108.6 1914.1 L1114.4 1912.8 L1120.3 1911.6 L1126.1 1910.4 L1132 1909.3 L1137.8 1908.3 L1143.7 1907.4 L1149.5 1906.6 L1155.4 1905.8 L1161.2 1905.1 L1167.1 1904.5 L1172.9 1903.9 L1178.8 1903.4 L1184.6 1903.1 L1190.5 1902.7 L1196.3 1902.5 L1202.2 1902.3 L1208 1902.2 L1213.9 1902.2 L1219.7 1902.3 L1225.6 1902.4 L1231.4 1902.6 L1237.3 1902.9 L1243.1 1903.3 L1249 1903.7 L1254.8 1904.2 L1260.7 1904.8 L1266.5 1905.5 L1272.4 1906.2 L1278.2 1907 L1284.1 1907.9 L1289.9 1908.8 L1295.8 1909.9 L1301.6 1910.9 L1307.5 1912.1 L1313.3 1913.3 L1319.2 1914.6 L1325 1915.9 L1330.9 1917.3 L1336.7 1918.7 L1342.6 1920.2 L1348.4 1921.8 L1354.3 1923.4 L1360.1 1925.1 L1366 1926.8 L1371.8 1928.5 L1377.7 1930.3 L1383.5 1932.2 L1389.4 1934.1" stroke-width="4.8" fill="none"/>
<path d="M578.3 2329.5 L584.1 2320.7 L589.9 2312 L595.8 2303.4 L601.6 2295 L607.4 2286.7 L613.3 2278.5 L619.1 2270.4 L624.9 2262.5 L630.8 2254.7 L636.6 2247 L642.5 2239.5 L648.3 2232 L654.1 2224.7 L660 2217.5 L665.8 2210.4 L671.6 2203.4 L677.5 2196.5 L683.3 2189.7 L689.1 2183 L695 2176.4 L700.8 2170 L706.6 2163.6 L712.5 2157.3 L718.3 2151.1 L724.1 2145 L730 2139 L735.8 2133.1 L741.7 2127.3 L747.5 2121.6 L753.3 2116 L759.2 2110.4 L765 2105 L770.8 2099.6 L776.7 2094.4 L782.5 2089.2 L788.3 2084.1 L794.2 2079 L800 2074.1 L805.8 2069.3 L811.7 2064.5 L817.5 2059.8 L823.4 2055.2 L829.2 2050.7 L835 2046.2 L840.9 2041.8 L846.7 2037.5 L852.5 2033.3 L858.4 2029.2 L864.2 2025.1 L870 2021.2 L875.9 2017.2 L881.7 2013.4 L887.5 2009.7 L893.4 2006 L899.2 2002.4 L905 1998.8 L910.9 1995.4 L916.7 1992 L922.6 1988.7 L928.4 1985.4 L934.2 1982.2 L940.1 1979.1 L945.9 1976.1 L951.7 1973.2 L957.6 1970.3 L963.4 1967.4 L969.2 1964.7 L975.1 1962 L980.9 1959.4 L986.7 1956.8 L992.6 1954.4 L998.4 1952 L1004.3 1949.6 L1010.1 1947.3 L1015.9 1945.1 L1021.8 1943 L1027.6 1940.9 L1033.4 1938.9 L1039.3 1936.9 L1045.1 1935 L1050.9 1933.2 L1056.8 1931.4 L1062.6 1929.7 L1068.4 1928 L1074.3 1926.4 L1080.1 1924.9 L1085.9 1923.4 L1091.8 1922 L1097.6 1920.6 L1103.5 1919.3 L1109.3 1918.1 L1115.1 1916.9 L1121 1915.7 L1126.8 1914.6 L1132.6 1913.6 L1138.5 1912.6 L1144.3 1911.6 L1150.1 1910.7 L1156 1909.9 L1161.8 1909 L1167.6 1908.3 L1173.5 1907.5 L1179.3 1906.8 L1185.1 1906.2 L1191 1905.6 L1196.8 1905 L1202.7 1904.4 L1208.5 1903.9 L1214.3 1903.4 L1220.2 1903 L1226 1902.5 L1231.8 1902.1 L1237.7 1901.8 L1243.5 1901.4 L1249.3 1901 L1255.2 1900.7 L1261 1900.4 L1266.8 1900.1 L1272.7 1899.8 L1278.5 1899.5 L1284.4 1899.2 L1290.2 1898.9 L1296 1898.6 L1301.9 1898.3 L1307.7 1898 L1313.5 1897.7 L1319.4 1897.4 L1325.2 1897.1 L1331 1896.7 L1336.9 1896.3 L1342.7 1895.9 L1348.5 1895.5 L1354.4 1895 L1360.2 1894.5 L1366 1894 L1371.9 1893.4 L1377.7 1892.7 L1383.6 1892 L1389.4 1891.3" stroke-width="4.8" fill="none"/>
<path d="M579.9 2329.1 L587.8 2317.5 L595.6 2306.1 L603.5 2294.9 L611.3 2283.9 L619.1 2273.2 L627 2262.6 L634.8 2252.2 L642.6 2242 L650.5 2231.9 L658.3 2222.1 L666.2 2212.5 L674 2203.1 L681.8 2193.8 L689.7 2184.7 L697.5 2175.9 L705.3 2167.2 L713.2 2158.6 L721 2150.3 L728.9 2142.1 L736.7 2134.1 L744.5 2126.3 L752.4 2118.7 L760.2 2111.2 L768 2103.9 L775.9 2096.7 L783.7 2089.7 L791.6 2082.9 L799.4 2076.3 L807.2 2069.8 L815.1 2063.4 L822.9 2057.2 L830.7 2051.1 L838.6 2045.2 L846.4 2039.5 L854.2 2033.9 L862.1 2028.4 L869.9 2023.1 L877.8 2017.9 L885.6 2012.8 L893.4 2007.9 L901.3 2003.1 L909.1 1998.4 L916.9 1993.8 L924.8 1989.4 L932.6 1985.1 L940.5 1980.9 L948.3 1976.8 L956.1 1972.8 L964 1969 L971.8 1965.2 L979.6 1961.6 L987.5 1958 L995.3 1954.6 L1003.2 1951.2 L1011 1948 L1018.8 1944.8 L1026.7 1941.8 L1034.5 1938.8 L1042.3 1935.9 L1050.2 1933.1 L1058 1930.4 L1065.9 1927.7 L1073.7 1925.2 L1081.5 1922.7 L1089.4 1920.3 L1097.2 1917.9 L1105 1915.6 L1112.9 1913.4 L1120.7 1911.3 L1128.6 1909.2 L1136.4 1907.2 L1144.2 1905.2 L1152.1 1903.3 L1159.9 1901.5 L1167.7 1899.7 L1175.6 1897.9 L1183.4 1896.2 L1191.3 1894.6 L1199.1 1893 L1206.9 1891.4 L1214.8 1889.9 L1222.6 1888.5 L1230.4 1887 L1238.3 1885.7 L1246.1 1884.3 L1254 1883 L1261.8 1881.7 L1269.6 1880.5 L1277.5 1879.3 L1285.3 1878.1 L1293.1 1877 L1301 1875.8 L1308.8 1874.8 L1316.7 1873.7 L1324.5 1872.7 L1332.3 1871.7 L1340.2 1870.7 L1348 1869.8 L1355.8 1868.8 L1363.7 1867.9 L1371.5 1867.1 L1379.3 1866.2 L1387.2 1865.4 L1395 1864.6 L1402.9 1863.8 L1410.7 1863.1 L1418.5 1862.4 L1426.4 1861.7 L1434.2 1861 L1442 1860.4 L1449.9 1859.8 L1457.7 1859.2 L1465.6 1858.6 L1473.4 1858.1 L1481.2 1857.6 L1489.1 1857.1 L1496.9 1856.7 L1504.7 1856.3 L1512.6 1856 L1520.4 1855.6 L1528.3 1855.3 L1536.1 1855.1 L1543.9 1854.9 L1551.8 1854.7 L1559.6 1854.6 L1567.4 1854.6 L1575.3 1854.6 L1583.1 1854.6 L1591 1854.7 L1598.8 1854.9 L1606.6 1855.1 L1614.5 1855.3 L1622.3 1855.7 L1630.1 1856.1 L1638 1856.6 L1645.8 1857.2 L1653.7 1857.8 L1661.5 1858.5 L1669.3 1859.4" stroke-width="4.8" fill="none"/>
<path d="M590.2 2331.5 L596.9 2321.7 L603.7 2312.1 L610.4 2302.8 L617.2 2293.7 L623.9 2284.8 L630.7 2276.2 L637.5 2267.7 L644.2 2259.5 L651 2251.5 L657.7 2243.6 L664.5 2236 L671.2 2228.5 L678 2221.2 L684.8 2214.1 L691.5 2207.1 L698.3 2200.3 L705 2193.6 L711.8 2187.1 L718.5 2180.7 L725.3 2174.5 L732.1 2168.3 L738.8 2162.4 L745.6 2156.5 L752.3 2150.8 L759.1 2145.1 L765.8 2139.6 L772.6 2134.2 L779.4 2128.9 L786.1 2123.7 L792.9 2118.6 L799.6 2113.6 L806.4 2108.6 L813.1 2103.8 L819.9 2099.1 L826.7 2094.4 L833.4 2089.8 L840.2 2085.3 L846.9 2080.8 L853.7 2076.4 L860.4 2072.1 L867.2 2067.9 L873.9 2063.7 L880.7 2059.6 L887.5 2055.5 L894.2 2051.5 L901 2047.6 L907.7 2043.7 L914.5 2039.9 L921.2 2036.1 L928 2032.4 L934.8 2028.7 L941.5 2025.1 L948.3 2021.5 L955 2017.9 L961.8 2014.5 L968.5 2011 L975.3 2007.6 L982.1 2004.2 L988.8 2000.9 L995.6 1997.6 L1002.3 1994.4 L1009.1 1991.2 L1015.8 1988.1 L1022.6 1984.9 L1029.4 1981.9 L1036.1 1978.8 L1042.9 1975.8 L1049.6 1972.9 L1056.4 1969.9 L1063.1 1967.1 L1069.9 1964.2 L1076.7 1961.4 L1083.4 1958.7 L1090.2 1955.9 L1096.9 1953.2 L1103.7 1950.6 L1110.4 1948 L1117.2 1945.4 L1124 1942.9 L1130.7 1940.4 L1137.5 1937.9 L1144.2 1935.5 L1151 1933.1 L1157.7 1930.8 L1164.5 1928.5 L1171.2 1926.3 L1178 1924.1 L1184.8 1921.9 L1191.5 1919.8 L1198.3 1917.7 L1205 1915.7 L1211.8 1913.7 L1218.5 1911.8 L1225.3 1909.9 L1232.1 1908 L1238.8 1906.2 L1245.6 1904.4 L1252.3 1902.7 L1259.1 1901 L1265.8 1899.4 L1272.6 1897.8 L1279.4 1896.3 L1286.1 1894.8 L1292.9 1893.4 L1299.6 1892 L1306.4 1890.6 L1313.1 1889.3 L1319.9 1888.1 L1326.7 1886.9 L1333.4 1885.7 L1340.2 1884.6 L1346.9 1883.6 L1353.7 1882.6 L1360.4 1881.6 L1367.2 1880.7 L1374 1879.8 L1380.7 1879 L1387.5 1878.2 L1394.2 1877.5 L1401 1876.8 L1407.7 1876.2 L1414.5 1875.6 L1421.3 1875 L1428 1874.5 L1434.8 1874.1 L1441.5 1873.6 L1448.3 1873.2 L1455 1872.9 L1461.8 1872.6 L1468.5 1872.3 L1475.3 1872.1 L1482.1 1871.9 L1488.8 1871.7 L1495.6 1871.5 L1502.3 1871.4 L1509.1 1871.3 L1515.8 1871.3 L1522.6 1871.2 L1529.4 1871.2" stroke-width="4.8" fill="none"/>
<path d="M585.1 2330.8 L589.9 2324.2 L594.7 2317.7 L599.5 2311.3 L604.2 2305 L609 2298.7 L613.8 2292.6 L618.6 2286.5 L623.4 2280.5 L628.1 2274.6 L632.9 2268.8 L637.7 2263 L642.5 2257.3 L647.3 2251.7 L652 2246.2 L656.8 2240.8 L661.6 2235.4 L666.4 2230.1 L671.1 2224.9 L675.9 2219.8 L680.7 2214.7 L685.5 2209.7 L690.3 2204.8 L695 2200 L699.8 2195.2 L704.6 2190.5 L709.4 2185.9 L714.2 2181.3 L718.9 2176.8 L723.7 2172.4 L728.5 2168 L733.3 2163.7 L738.1 2159.5 L742.8 2155.3 L747.6 2151.2 L752.4 2147.2 L757.2 2143.2 L761.9 2139.2 L766.7 2135.4 L771.5 2131.6 L776.3 2127.8 L781.1 2124.1 L785.8 2120.4 L790.6 2116.8 L795.4 2113.3 L800.2 2109.8 L805 2106.3 L809.7 2102.9 L814.5 2099.6 L819.3 2096.2 L824.1 2093 L828.9 2089.7 L833.6 2086.6 L838.4 2083.4 L843.2 2080.3 L848 2077.3 L852.8 2074.2 L857.5 2071.2 L862.3 2068.3 L867.1 2065.4 L871.9 2062.5 L876.6 2059.6 L881.4 2056.8 L886.2 2054 L891 2051.3 L895.8 2048.5 L900.5 2045.8 L905.3 2043.1 L910.1 2040.5 L914.9 2037.9 L919.7 2035.3 L924.4 2032.7 L929.2 2030.1 L934 2027.6 L938.8 2025.1 L943.6 2022.6 L948.3 2020.1 L953.1 2017.7 L957.9 2015.2 L962.7 2012.8 L967.5 2010.4 L972.2 2008 L977 2005.7 L981.8 2003.3 L986.6 2001 L991.3 1998.7 L996.1 1996.4 L1000.9 1994.1 L1005.7 1991.8 L1010.5 1989.5 L1015.2 1987.3 L1020 1985 L1024.8 1982.8 L1029.6 1980.6 L1034.4 1978.4 L1039.1 1976.2 L1043.9 1974 L1048.7 1971.9 L1053.5 1969.7 L1058.3 1967.6 L1063 1965.5 L1067.8 1963.4 L1072.6 1961.3 L1077.4 1959.3 L1082.2 1957.2 L1086.9 1955.2 L1091.7 1953.1 L1096.5 1951.1 L1101.3 1949.2 L1106 1947.2 L1110.8 1945.2 L1115.6 1943.3 L1120.4 1941.4 L1125.2 1939.5 L1129.9 1937.7 L1134.7 1935.9 L1139.5 1934.1 L1144.3 1932.3 L1149.1 1930.5 L1153.8 1928.8 L1158.6 1927.2 L1163.4 1925.5 L1168.2 1923.9 L1173 1922.3 L1177.7 1920.8 L1182.5 1919.3 L1187.3 1917.9 L1192.1 1916.5 L1196.8 1915.1 L1201.6 1913.8 L1206.4 1912.5 L1211.2 1911.3 L1216 1910.2 L1220.7 1909.1 L1225.5 1908.1 L1230.3 1907.1 L1235.1 1906.3 L1239.9 1905.4 L1244.6 1904.7 L1249.4 1904" stroke-width="4.8" fill="none"/>
<path d="M409.6 2277.7 L416 2277 L422.3 2276.2 L428.7 2275.4 L435 2274.7 L441.4 2273.9 L447.8 2273.2 L454.1 2272.5 L460.5 2271.7 L466.9 2271 L473.2 2270.3 L479.6 2269.6" stroke-width="2.5" fill="none"/>
<path d="M479.6 2269.6 L486.7 2268.8 L493.8 2268 L500.8 2267.2 L507.9 2266.5 L515 2265.7 L522.1 2265 L529.2 2264.2 L536.3 2263.5 L543.4 2262.8 L550.5 2262.2 L557.5 2261.5 L564.6 2260.9 L571.7 2260.3 L578.8 2259.7 L585.9 2259.1 L593 2258.6 L600.1 2258 L607.2 2257.5 L614.2 2256.9 L621.3 2256.4 L628.4 2255.8 L635.5 2255.3 L642.6 2254.8 L649.7 2254.3 L656.8 2253.7 L663.8 2253.2 L670.9 2252.7 L678 2252.1 L685.1 2251.6 L692.2 2251 L699.3 2250.5 L706.4 2249.9 L713.5 2249.4 L720.5 2248.9 L727.6 2248.3 L734.7 2247.8 L741.8 2247.3 L748.9 2246.8 L756 2246.2 L763.1 2245.7 L770.2 2245.2 L777.2 2244.6 L784.3 2244.1 L791.4 2243.5 L798.5 2242.9 L805.6 2242.3 L812.7 2241.7 L819.8 2241.1 L826.9 2240.5 L833.9 2239.8 L841 2239.1 L848.1 2238.4 L855.2 2237.7 L862.3 2236.9 L869.4 2236.1 L876.5 2235.3 L883.5 2234.5 L890.6 2233.7 L897.7 2232.9 L904.8 2232 L911.9 2231.2 L919 2230.3 L926.1 2229.4 L933.2 2228.6 L940.2 2227.7 L947.3 2226.8 L954.4 2225.9 L961.5 2225 L968.6 2224.1 L975.7 2223.2 L982.8 2222.3 L989.9 2221.4 L996.9 2220.4 L1004 2219.5 L1011.1 2218.5 L1018.2 2217.5 L1025.3 2216.5 L1032.4 2215.5 L1039.5 2214.5" stroke-width="4.8" fill="none"/>
<path d="M409.6 2297.8 L416 2297.8 L422.3 2297.8 L428.7 2297.8 L435 2297.8 L441.4 2297.8 L447.8 2297.8 L454.1 2297.8 L460.5 2297.8 L466.9 2297.8 L473.2 2297.8 L479.6 2297.8" stroke-width="2.5" fill="none"/>
<path d="M479.6 2297.8 L494.6 2297.8 L509.7 2297.7 L524.8 2297.6 L539.8 2297.5 L554.9 2297.4 L569.9 2297.3 L585 2297.2 L600.1 2297 L615.1 2296.9 L630.2 2296.7 L645.2 2296.5 L660.3 2296.3 L675.4 2296.1 L690.4 2295.9 L705.5 2295.6 L720.5 2295.2 L735.6 2294.8 L750.7 2294.4 L765.7 2293.8 L780.8 2293.3 L795.8 2292.7 L810.9 2292.1 L826 2291.5 L841 2290.9 L856.1 2290.2 L871.1 2289.5 L886.2 2288.8 L901.3 2288 L916.3 2287.2 L931.4 2286.4 L946.4 2285.5 L961.5 2284.6 L976.6 2283.7 L991.6 2282.7 L1006.7 2281.7 L1021.7 2280.7 L1036.8 2279.6 L1051.9 2278.5 L1066.9 2277.3 L1082 2276.1 L1097 2274.8 L1112.1 2273.4 L1127.2 2272 L1142.2 2270.4 L1157.3 2268.7 L1172.3 2267 L1187.4 2265.2 L1202.5 2263.3 L1217.5 2261.4 L1232.6 2259.5 L1247.6 2257.6 L1262.7 2255.7 L1277.8 2253.7 L1292.8 2251.7 L1307.9 2249.7 L1322.9 2247.7 L1338 2245.6 L1353.1 2243.5 L1368.1 2241.4 L1383.2 2239.3 L1398.2 2237.1 L1413.3 2235 L1428.4 2232.9 L1443.4 2230.8 L1458.5 2228.7 L1473.5 2226.4 L1488.6 2224.1 L1503.7 2221.7 L1518.7 2219.1 L1533.8 2216.4 L1548.8 2213.4 L1563.9 2210.3 L1579 2206.9 L1594 2203.4 L1609.1 2199.7 L1624.1 2195.9 L1639.2 2191.9 L1654.3 2187.8 L1669.3 2183.6" stroke-width="4.8" fill="none"/>
<line x1="1263.5" y1="1815.3" x2="1274.5" y2="1815.3" stroke-width="1.5"/>
<text x="1278.2" y="1827.1" font-size="35.4" textLength="58.8" lengthAdjust="spacingAndGlyphs">34/2</text>
<line x1="1403" y1="1901.2" x2="1413.5" y2="1901.2" stroke-width="1.5"/>
<text x="1421.2" y="1913" font-size="35.4" textLength="58.8" lengthAdjust="spacingAndGlyphs">60/2</text>
<line x1="1398.5" y1="1942.3" x2="1410.5" y2="1942.3" stroke-width="1.5"/>
<text x="1415.7" y="1954.1" font-size="35.4" textLength="60.3" lengthAdjust="spacingAndGlyphs">40/2</text>
<line x1="1569.5" y1="1812.2" x2="1580.5" y2="1812.2" stroke-width="1.5"/>
<text x="1588.7" y="1824" font-size="35.4" textLength="58.8" lengthAdjust="spacingAndGlyphs">66/2</text>
<line x1="1597" y1="1830.7" x2="1496.2" y2="1867.1" stroke-width="1.5"/>
<line x1="1680" y1="1858.7" x2="1692" y2="1858.7" stroke-width="1.5"/>
<text x="1697.7" y="1870.5" font-size="35.4" textLength="58.8" lengthAdjust="spacingAndGlyphs">81/2</text>
<line x1="796.5" y1="1805" x2="808.5" y2="1805" stroke-width="1.5"/>
<text x="815.2" y="1816.8" font-size="35.4" textLength="55.8" lengthAdjust="spacingAndGlyphs">18/2</text>
<line x1="869.2" y1="1822.5" x2="946.9" y2="1875.4" stroke-width="1.5"/>
<line x1="893" y1="1801.2" x2="903.8" y2="1801.2" stroke-width="1.5"/>
<text x="901.7" y="1813" font-size="35.4" textLength="58.8" lengthAdjust="spacingAndGlyphs">22/2</text>
<line x1="954.5" y1="1818" x2="1005.3" y2="1855.7" stroke-width="1.5"/>
<line x1="990.5" y1="1799.1" x2="1002" y2="1799.1" stroke-width="1.5"/>
<text x="1008.7" y="1810.9" font-size="35.4" textLength="58.3" lengthAdjust="spacingAndGlyphs">30/2</text>
<line x1="881" y1="1939.1" x2="893" y2="1939.1" stroke-width="1.5"/>
<text x="900.7" y="1950.9" font-size="35.4" textLength="55.3" lengthAdjust="spacingAndGlyphs">15/2</text>
<line x1="920" y1="1923.1" x2="942.8" y2="1906.5" stroke-width="1.5"/>
<line x1="986" y1="2065.6" x2="998" y2="2065.6" stroke-width="1.5"/>
<text x="1003.7" y="2077.4" font-size="35.4" textLength="57.8" lengthAdjust="spacingAndGlyphs">50/2</text>
<line x1="976.3" y1="2070.3" x2="889.9" y2="2014.3" stroke-width="1.5"/>
<text x="1003.6" y="2181.4" font-size="35" textLength="70.5" lengthAdjust="spacingAndGlyphs">NPSH</text>
<text x="1075" y="2181.4" font-size="35" textLength="9" lengthAdjust="spacingAndGlyphs">(</text>
<line x1="1083" y1="2170.9" x2="1093.8" y2="2170.9" stroke-width="1.7"/>
<text x="1098.2" y="2181.4" font-size="33.2" textLength="58" lengthAdjust="spacingAndGlyphs">22/2</text>
<text x="1157" y="2181.4" font-size="33.2" textLength="5.8" lengthAdjust="spacingAndGlyphs">,</text>
<line x1="1167.2" y1="2170.9" x2="1179.2" y2="2170.9" stroke-width="1.7"/>
<text x="1187" y="2181.4" font-size="33.2" textLength="54.6" lengthAdjust="spacingAndGlyphs">18/2</text>
<text x="1243" y="2181.4" font-size="33.2" textLength="6" lengthAdjust="spacingAndGlyphs">,</text>
<line x1="1250.4" y1="2170.9" x2="1261.3" y2="2170.9" stroke-width="1.7"/>
<text x="1269" y="2181.4" font-size="33.2" textLength="54.7" lengthAdjust="spacingAndGlyphs">15/2</text>
<text x="1329.2" y="2181.4" font-size="35" textLength="8.8" lengthAdjust="spacingAndGlyphs">)</text>
<line x1="1045.7" y1="2188.7" x2="993.1" y2="2219.8" stroke-width="1.5"/>
<text x="1110.7" y="2317.1" font-size="35" textLength="70.5" lengthAdjust="spacingAndGlyphs">NPSH</text>
<text x="1182" y="2317.1" font-size="35" textLength="8.4" lengthAdjust="spacingAndGlyphs">(</text>
<line x1="1195.8" y1="2306.6" x2="1205.3" y2="2306.6" stroke-width="1.7"/>
<text x="1208.2" y="2317.1" font-size="33.2" textLength="56.8" lengthAdjust="spacingAndGlyphs">81/2</text>
<text x="1271.7" y="2317.1" font-size="33.2" textLength="4.9" lengthAdjust="spacingAndGlyphs">,</text>
<line x1="1278.7" y1="2306.6" x2="1289.1" y2="2306.6" stroke-width="1.7"/>
<text x="1295.3" y="2317.1" font-size="33.2" textLength="56.8" lengthAdjust="spacingAndGlyphs">66/2</text>
<text x="1358.8" y="2317.1" font-size="33.2" textLength="5" lengthAdjust="spacingAndGlyphs">,</text>
<line x1="1361.7" y1="2306.6" x2="1372" y2="2306.6" stroke-width="1.7"/>
<text x="1377.4" y="2317.1" font-size="33.2" textLength="56.9" lengthAdjust="spacingAndGlyphs">60/2</text>
<text x="1440.5" y="2317.1" font-size="33.2" textLength="5.5" lengthAdjust="spacingAndGlyphs">,</text>
<line x1="1445.9" y1="2306.6" x2="1455" y2="2306.6" stroke-width="1.7"/>
<text x="1459.1" y="2317.1" font-size="33.2" textLength="57.3" lengthAdjust="spacingAndGlyphs">50/2</text>
<text x="1522.6" y="2317.1" font-size="33.2" textLength="5" lengthAdjust="spacingAndGlyphs">,</text>
<line x1="1527.6" y1="2306.6" x2="1538.8" y2="2306.6" stroke-width="1.7"/>
<text x="1545" y="2317.1" font-size="33.2" textLength="57.2" lengthAdjust="spacingAndGlyphs">40/2</text>
<text x="1608.5" y="2317.1" font-size="33.2" textLength="5" lengthAdjust="spacingAndGlyphs">,</text>
<line x1="1616.7" y1="2306.6" x2="1625.9" y2="2306.6" stroke-width="1.7"/>
<text x="1631.3" y="2317.1" font-size="33.2" textLength="56" lengthAdjust="spacingAndGlyphs">34/2</text>
<text x="1693.5" y="2317.1" font-size="33.2" textLength="5.5" lengthAdjust="spacingAndGlyphs">,</text>
<line x1="1699.7" y1="2306.6" x2="1710.1" y2="2306.6" stroke-width="1.7"/>
<text x="1714.2" y="2317.1" font-size="33.2" textLength="56" lengthAdjust="spacingAndGlyphs">30/2</text>
<text x="1772.3" y="2317.1" font-size="35" textLength="11.2" lengthAdjust="spacingAndGlyphs">)</text>
<line x1="1299.5" y1="2252.8" x2="1356.3" y2="2284.7" stroke-width="1.5"/>
</svg>
</body></html>
